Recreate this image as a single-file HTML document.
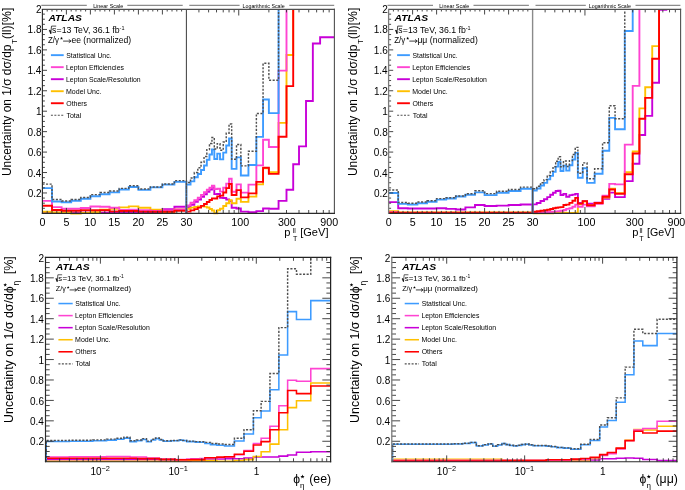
<!DOCTYPE html>
<html><head><meta charset="utf-8"><style>
html,body{margin:0;padding:0;background:#fff;overflow:hidden;}
svg{display:block;font-family:"Liberation Sans", sans-serif;will-change:transform;}
</style></head><body>
<svg width="685" height="490" viewBox="0 0 685 490">
<rect x="0" y="0" width="685" height="490" fill="#fff"/>
<clipPath id="clipTL"><rect x="41.90" y="9.00" width="292.50" height="206.00"/></clipPath>
<line x1="186.40" y1="9.00" x2="186.40" y2="213.40" stroke="#444" stroke-width="1.05" />
<g clip-path="url(#clipTL)">
<path d="M42.40,212.40 L52.00,212.40 L52.00,212.60 L61.60,212.60 L61.60,212.60 L71.20,212.60 L71.20,212.60 L80.80,212.60 L80.80,212.60 L90.40,212.60 L90.40,212.60 L100.00,212.60 L100.00,212.60 L109.60,212.60 L109.60,212.60 L119.20,212.60 L119.20,212.60 L128.80,212.60 L128.80,212.60 L138.40,212.60 L138.40,212.40 L150.40,212.40 L150.40,212.60 L162.40,212.60 L162.40,209.10 L174.40,209.10 L174.40,206.80 L186.40,206.80 L186.40,213.40 M186.40,213.40 L186.40,207.30 L190.54,207.30 L190.54,204.70 L194.33,204.70 L194.33,201.90 L197.81,201.90 L197.81,199.50 L201.03,199.50 L201.03,196.70 L204.03,196.70 L204.03,194.30 L206.83,194.30 L206.83,191.79 L209.47,191.79 L209.47,189.60 L211.95,189.60 L211.95,187.50 L214.30,187.50 L214.30,194.10 L217.25,194.10 L217.25,194.00 L220.01,194.00 L220.01,197.70 L223.23,197.70 L223.23,198.00 L226.23,198.00 L226.23,199.50 L229.04,199.50 L229.04,201.00 L231.67,201.00 L231.67,207.70 L236.51,207.70 L236.51,208.50 L240.86,208.50 L240.86,211.60 L248.44,211.60 L248.44,212.25 L256.37,212.25 L256.37,211.10 L263.07,211.10 L263.07,208.50 L268.87,208.50 L268.87,208.80 L278.57,208.80 L278.57,200.90 L286.50,200.90 L286.50,189.70 L293.20,189.70 L293.20,164.20 L299.01,164.20 L299.01,146.40 L306.02,146.40 L306.02,101.00 L312.85,101.00 L312.85,43.50 L320.11,43.50 L320.11,37.20 L334.26,37.20" fill="none" stroke="#c800d8" stroke-width="1.9" stroke-linejoin="miter"/>
<path d="M42.40,211.70 L52.00,211.70 L52.00,212.40 L61.60,212.40 L61.60,212.40 L71.20,212.40 L71.20,213.60 L80.80,213.60 L80.80,213.00 L90.40,213.00 L90.40,212.10 L100.00,212.10 L100.00,209.60 L109.60,209.60 L109.60,208.80 L119.20,208.80 L119.20,207.40 L128.80,207.40 L128.80,206.40 L138.40,206.40 L138.40,207.80 L150.40,207.80 L150.40,209.60 L162.40,209.60 L162.40,212.90 L174.40,212.90 L174.40,209.40 L186.40,209.40 L186.40,213.40 M186.40,213.40 L186.40,208.70 L190.54,208.70 L190.54,207.60 L194.33,207.60 L194.33,207.00 L197.81,207.00 L197.81,206.50 L201.03,206.50 L201.03,206.30 L204.03,206.30 L204.03,206.60 L206.83,206.60 L206.83,207.50 L209.47,207.50 L209.47,209.00 L211.95,209.00 L211.95,210.50 L214.30,210.50 L214.30,213.20 L217.25,213.20 L217.25,210.30 L220.01,210.30 L220.01,208.70 L223.23,208.70 L223.23,206.00 L226.23,206.00 L226.23,203.20 L229.04,203.20 L229.04,200.30 L231.67,200.30 L231.67,203.20 L236.51,203.20 L236.51,198.70 L240.86,198.70 L240.86,201.90 L248.44,201.90 L248.44,196.60 L256.37,196.60 L256.37,184.40 L263.07,184.40 L263.07,168.40 L268.87,168.40 L268.87,172.10 L278.57,172.10 L278.57,122.90 L286.50,122.90 L286.50,55.00 L293.20,55.00 L293.20,-21.66 L299.01,-21.66 L299.01,-21.66 L306.02,-21.66 L306.02,-21.66 L312.85,-21.66 L312.85,-21.66 L320.11,-21.66 L320.11,-21.66 L334.26,-21.66" fill="none" stroke="#ffc000" stroke-width="1.9" stroke-linejoin="miter"/>
<path d="M42.40,200.90 L52.00,200.90 L52.00,207.10 L61.60,207.10 L61.60,208.70 L71.20,208.70 L71.20,208.70 L80.80,208.70 L80.80,208.00 L90.40,208.00 L90.40,206.50 L100.00,206.50 L100.00,206.80 L109.60,206.80 L109.60,207.80 L119.20,207.80 L119.20,210.00 L128.80,210.00 L128.80,209.70 L138.40,209.70 L138.40,210.20 L150.40,210.20 L150.40,211.00 L162.40,211.00 L162.40,210.50 L174.40,210.50 L174.40,209.40 L186.40,209.40 L186.40,213.40 M186.40,213.40 L186.40,205.40 L190.54,205.40 L190.54,202.70 L194.33,202.70 L194.33,200.20 L197.81,200.20 L197.81,197.60 L201.03,197.60 L201.03,194.90 L204.03,194.90 L204.03,192.20 L206.83,192.20 L206.83,189.80 L209.47,189.80 L209.47,187.70 L211.95,187.70 L211.95,185.60 L214.30,185.60 L214.30,189.10 L217.25,189.10 L217.25,188.70 L220.01,188.70 L220.01,191.60 L223.23,191.60 L223.23,187.70 L226.23,187.70 L226.23,183.60 L229.04,183.60 L229.04,178.70 L231.67,178.70 L231.67,191.70 L236.51,191.70 L236.51,184.40 L240.86,184.40 L240.86,192.60 L248.44,192.60 L248.44,184.60 L256.37,184.60 L256.37,165.40 L263.07,165.40 L263.07,139.70 L268.87,139.70 L268.87,147.00 L278.57,147.00 L278.57,70.60 L286.50,70.60 L286.50,-21.66 L293.20,-21.66 L293.20,-21.66 L299.01,-21.66 L299.01,-21.66 L306.02,-21.66 L306.02,-21.66 L312.85,-21.66 L312.85,-21.66 L320.11,-21.66 L320.11,-21.66 L334.26,-21.66" fill="none" stroke="#ff44d2" stroke-width="1.9" stroke-linejoin="miter"/>
<path d="M42.40,205.80 L52.00,205.80 L52.00,210.00 L61.60,210.00 L61.60,210.70 L71.20,210.70 L71.20,210.70 L80.80,210.70 L80.80,210.20 L90.40,210.20 L90.40,210.20 L100.00,210.20 L100.00,210.30 L109.60,210.30 L109.60,211.40 L119.20,211.40 L119.20,211.00 L128.80,211.00 L128.80,211.00 L138.40,211.00 L138.40,211.60 L150.40,211.60 L150.40,211.70 L162.40,211.70 L162.40,211.70 L174.40,211.70 L174.40,210.70 L186.40,210.70 L186.40,213.40 M186.40,213.40 L186.40,211.60 L190.54,211.60 L190.54,210.40 L194.33,210.40 L194.33,209.10 L197.81,209.10 L197.81,207.60 L201.03,207.60 L201.03,205.90 L204.03,205.90 L204.03,204.00 L206.83,204.00 L206.83,202.00 L209.47,202.00 L209.47,200.00 L211.95,200.00 L211.95,198.40 L214.30,198.40 L214.30,198.50 L217.25,198.50 L217.25,196.40 L220.01,196.40 L220.01,195.60 L223.23,195.60 L223.23,192.50 L226.23,192.50 L226.23,188.10 L229.04,188.10 L229.04,184.00 L231.67,184.00 L231.67,195.00 L236.51,195.00 L236.51,190.10 L240.86,190.10 L240.86,197.40 L248.44,197.40 L248.44,193.40 L256.37,193.40 L256.37,181.90 L263.07,181.90 L263.07,167.80 L268.87,167.80 L268.87,173.90 L278.57,173.90 L278.57,136.80 L286.50,136.80 L286.50,86.10 L293.20,86.10 L293.20,-21.66 L299.01,-21.66 L299.01,-21.66 L306.02,-21.66 L306.02,-21.66 L312.85,-21.66 L312.85,-21.66 L320.11,-21.66 L320.11,-21.66 L334.26,-21.66" fill="none" stroke="#ff0000" stroke-width="1.9" stroke-linejoin="miter"/>
<path d="M42.40,188.10 L52.00,188.10 L52.00,201.50 L61.60,201.50 L61.60,202.30 L71.20,202.30 L71.20,200.70 L80.80,200.70 L80.80,198.70 L90.40,198.70 L90.40,196.30 L100.00,196.30 L100.00,194.30 L109.60,194.30 L109.60,192.40 L119.20,192.40 L119.20,189.50 L128.80,189.50 L128.80,187.00 L138.40,187.00 L138.40,189.90 L150.40,189.90 L150.40,187.40 L162.40,187.40 L162.40,184.60 L174.40,184.60 L174.40,181.90 L186.40,181.90 L186.40,213.40 M186.40,213.40 L186.40,184.60 L190.54,184.60 L190.54,181.40 L194.33,181.40 L194.33,177.30 L197.81,177.30 L197.81,174.00 L201.03,174.00 L201.03,170.00 L204.03,170.00 L204.03,165.50 L206.83,165.50 L206.83,159.70 L209.47,159.70 L209.47,154.50 L211.95,154.50 L211.95,149.50 L214.30,149.50 L214.30,159.00 L217.25,159.00 L217.25,153.60 L220.01,153.60 L220.01,159.40 L223.23,159.40 L223.23,152.60 L226.23,152.60 L226.23,145.50 L229.04,145.50 L229.04,138.50 L231.67,138.50 L231.67,168.90 L236.51,168.90 L236.51,157.40 L240.86,157.40 L240.86,175.50 L248.44,175.50 L248.44,165.00 L256.37,165.00 L256.37,136.90 L263.07,136.90 L263.07,99.50 L268.87,99.50 L268.87,113.10 L278.57,113.10 L278.57,-21.66 L286.50,-21.66 L286.50,-21.66 L293.20,-21.66 L293.20,-21.66 L299.01,-21.66 L299.01,-21.66 L306.02,-21.66 L306.02,-21.66 L312.85,-21.66 L312.85,-21.66 L320.11,-21.66 L320.11,-21.66 L334.26,-21.66" fill="none" stroke="#3d9bff" stroke-width="1.9" stroke-linejoin="miter"/>
<path d="M42.40,184.10 L52.00,184.10 L52.00,199.46 L61.60,199.46 L61.60,200.98 L71.20,200.98 L71.20,199.56 L80.80,199.56 L80.80,197.40 L90.40,197.40 L90.40,194.63 L100.00,194.63 L100.00,192.59 L109.60,192.59 L109.60,191.08 L119.20,191.08 L119.20,188.39 L128.80,188.39 L128.80,185.72 L138.40,185.72 L138.40,188.94 L150.40,188.94 L150.40,186.95 L162.40,186.95 L162.40,184.08 L174.40,184.08 L174.40,180.61 L186.40,180.61 L186.40,213.40 M186.40,213.40 L186.40,182.48 L190.54,182.48 L190.54,177.95 L194.33,177.95 L194.33,172.55 L197.81,172.55 L197.81,167.83 L201.03,167.83 L201.03,162.30 L204.03,162.30 L204.03,156.45 L206.83,156.45 L206.83,149.60 L209.47,149.60 L209.47,143.43 L211.95,143.43 L211.95,137.51 L214.30,137.51 L214.30,149.02 L217.25,149.02 L217.25,143.68 L220.01,143.68 L220.01,150.33 L223.23,150.33 L223.23,142.08 L226.23,142.08 L226.23,133.17 L229.04,133.17 L229.04,123.93 L231.67,123.93 L231.67,159.31 L236.51,159.31 L236.51,144.40 L240.86,144.40 L240.86,165.86 L248.44,165.86 L248.44,151.30 L256.37,151.30 L256.37,113.43 L263.07,113.43 L263.07,63.29 L268.87,63.29 L268.87,80.15 L278.57,80.15 L278.57,-21.66 L286.50,-21.66 L286.50,-21.66 L293.20,-21.66 L293.20,-21.66 L299.01,-21.66 L299.01,-21.66 L306.02,-21.66 L306.02,-21.66 L312.85,-21.66 L312.85,-21.66 L320.11,-21.66 L320.11,-21.66 L334.26,-21.66" fill="none" stroke="#505050" stroke-width="1.45" stroke-linejoin="miter" stroke-dasharray="2.1,1.5"/>
</g>
<line x1="42.40" y1="208.29" x2="44.90" y2="208.29" stroke="#333" stroke-width="0.9" />
<line x1="42.40" y1="203.18" x2="44.90" y2="203.18" stroke="#333" stroke-width="0.9" />
<line x1="42.40" y1="198.07" x2="44.90" y2="198.07" stroke="#333" stroke-width="0.9" />
<line x1="42.40" y1="192.96" x2="47.00" y2="192.96" stroke="#333" stroke-width="0.9" />
<line x1="42.40" y1="187.85" x2="44.90" y2="187.85" stroke="#333" stroke-width="0.9" />
<line x1="42.40" y1="182.74" x2="44.90" y2="182.74" stroke="#333" stroke-width="0.9" />
<line x1="42.40" y1="177.63" x2="44.90" y2="177.63" stroke="#333" stroke-width="0.9" />
<line x1="42.40" y1="172.52" x2="47.00" y2="172.52" stroke="#333" stroke-width="0.9" />
<line x1="42.40" y1="167.41" x2="44.90" y2="167.41" stroke="#333" stroke-width="0.9" />
<line x1="42.40" y1="162.30" x2="44.90" y2="162.30" stroke="#333" stroke-width="0.9" />
<line x1="42.40" y1="157.19" x2="44.90" y2="157.19" stroke="#333" stroke-width="0.9" />
<line x1="42.40" y1="152.08" x2="47.00" y2="152.08" stroke="#333" stroke-width="0.9" />
<line x1="42.40" y1="146.97" x2="44.90" y2="146.97" stroke="#333" stroke-width="0.9" />
<line x1="42.40" y1="141.86" x2="44.90" y2="141.86" stroke="#333" stroke-width="0.9" />
<line x1="42.40" y1="136.75" x2="44.90" y2="136.75" stroke="#333" stroke-width="0.9" />
<line x1="42.40" y1="131.64" x2="47.00" y2="131.64" stroke="#333" stroke-width="0.9" />
<line x1="42.40" y1="126.53" x2="44.90" y2="126.53" stroke="#333" stroke-width="0.9" />
<line x1="42.40" y1="121.42" x2="44.90" y2="121.42" stroke="#333" stroke-width="0.9" />
<line x1="42.40" y1="116.31" x2="44.90" y2="116.31" stroke="#333" stroke-width="0.9" />
<line x1="42.40" y1="111.20" x2="47.00" y2="111.20" stroke="#333" stroke-width="0.9" />
<line x1="42.40" y1="106.09" x2="44.90" y2="106.09" stroke="#333" stroke-width="0.9" />
<line x1="42.40" y1="100.98" x2="44.90" y2="100.98" stroke="#333" stroke-width="0.9" />
<line x1="42.40" y1="95.87" x2="44.90" y2="95.87" stroke="#333" stroke-width="0.9" />
<line x1="42.40" y1="90.76" x2="47.00" y2="90.76" stroke="#333" stroke-width="0.9" />
<line x1="42.40" y1="85.65" x2="44.90" y2="85.65" stroke="#333" stroke-width="0.9" />
<line x1="42.40" y1="80.54" x2="44.90" y2="80.54" stroke="#333" stroke-width="0.9" />
<line x1="42.40" y1="75.43" x2="44.90" y2="75.43" stroke="#333" stroke-width="0.9" />
<line x1="42.40" y1="70.32" x2="47.00" y2="70.32" stroke="#333" stroke-width="0.9" />
<line x1="42.40" y1="65.21" x2="44.90" y2="65.21" stroke="#333" stroke-width="0.9" />
<line x1="42.40" y1="60.10" x2="44.90" y2="60.10" stroke="#333" stroke-width="0.9" />
<line x1="42.40" y1="54.99" x2="44.90" y2="54.99" stroke="#333" stroke-width="0.9" />
<line x1="42.40" y1="49.88" x2="47.00" y2="49.88" stroke="#333" stroke-width="0.9" />
<line x1="42.40" y1="44.77" x2="44.90" y2="44.77" stroke="#333" stroke-width="0.9" />
<line x1="42.40" y1="39.66" x2="44.90" y2="39.66" stroke="#333" stroke-width="0.9" />
<line x1="42.40" y1="34.55" x2="44.90" y2="34.55" stroke="#333" stroke-width="0.9" />
<line x1="42.40" y1="29.44" x2="47.00" y2="29.44" stroke="#333" stroke-width="0.9" />
<line x1="42.40" y1="24.33" x2="44.90" y2="24.33" stroke="#333" stroke-width="0.9" />
<line x1="42.40" y1="19.22" x2="44.90" y2="19.22" stroke="#333" stroke-width="0.9" />
<line x1="42.40" y1="14.11" x2="44.90" y2="14.11" stroke="#333" stroke-width="0.9" />
<text x="27.70" y="196.96" font-size="10" fill="#000" >0.2</text>
<text x="27.50" y="176.52" font-size="10" fill="#000" >0.4</text>
<text x="27.65" y="156.08" font-size="10" fill="#000" >0.6</text>
<text x="27.60" y="135.64" font-size="10" fill="#000" >0.8</text>
<text x="36.05" y="115.20" font-size="10" fill="#000" >1</text>
<text x="27.70" y="94.76" font-size="10" fill="#000" >1.2</text>
<text x="27.50" y="74.32" font-size="10" fill="#000" >1.4</text>
<text x="27.65" y="53.88" font-size="10" fill="#000" >1.6</text>
<text x="27.60" y="33.44" font-size="10" fill="#000" >1.8</text>
<text x="36.05" y="13.00" font-size="10" fill="#000" >2</text>
<line x1="47.20" y1="9.00" x2="47.20" y2="11.50" stroke="#333" stroke-width="0.9" />
<line x1="47.20" y1="213.40" x2="47.20" y2="210.90" stroke="#333" stroke-width="0.9" />
<line x1="52.00" y1="9.00" x2="52.00" y2="11.50" stroke="#333" stroke-width="0.9" />
<line x1="52.00" y1="213.40" x2="52.00" y2="210.90" stroke="#333" stroke-width="0.9" />
<line x1="56.80" y1="9.00" x2="56.80" y2="11.50" stroke="#333" stroke-width="0.9" />
<line x1="56.80" y1="213.40" x2="56.80" y2="210.90" stroke="#333" stroke-width="0.9" />
<line x1="61.60" y1="9.00" x2="61.60" y2="11.50" stroke="#333" stroke-width="0.9" />
<line x1="61.60" y1="213.40" x2="61.60" y2="210.90" stroke="#333" stroke-width="0.9" />
<line x1="66.40" y1="9.00" x2="66.40" y2="14.50" stroke="#333" stroke-width="0.9" />
<line x1="66.40" y1="213.40" x2="66.40" y2="207.90" stroke="#333" stroke-width="0.9" />
<line x1="71.20" y1="9.00" x2="71.20" y2="11.50" stroke="#333" stroke-width="0.9" />
<line x1="71.20" y1="213.40" x2="71.20" y2="210.90" stroke="#333" stroke-width="0.9" />
<line x1="76.00" y1="9.00" x2="76.00" y2="11.50" stroke="#333" stroke-width="0.9" />
<line x1="76.00" y1="213.40" x2="76.00" y2="210.90" stroke="#333" stroke-width="0.9" />
<line x1="80.80" y1="9.00" x2="80.80" y2="11.50" stroke="#333" stroke-width="0.9" />
<line x1="80.80" y1="213.40" x2="80.80" y2="210.90" stroke="#333" stroke-width="0.9" />
<line x1="85.60" y1="9.00" x2="85.60" y2="11.50" stroke="#333" stroke-width="0.9" />
<line x1="85.60" y1="213.40" x2="85.60" y2="210.90" stroke="#333" stroke-width="0.9" />
<line x1="90.40" y1="9.00" x2="90.40" y2="14.50" stroke="#333" stroke-width="0.9" />
<line x1="90.40" y1="213.40" x2="90.40" y2="207.90" stroke="#333" stroke-width="0.9" />
<line x1="95.20" y1="9.00" x2="95.20" y2="11.50" stroke="#333" stroke-width="0.9" />
<line x1="95.20" y1="213.40" x2="95.20" y2="210.90" stroke="#333" stroke-width="0.9" />
<line x1="100.00" y1="9.00" x2="100.00" y2="11.50" stroke="#333" stroke-width="0.9" />
<line x1="100.00" y1="213.40" x2="100.00" y2="210.90" stroke="#333" stroke-width="0.9" />
<line x1="104.80" y1="9.00" x2="104.80" y2="11.50" stroke="#333" stroke-width="0.9" />
<line x1="104.80" y1="213.40" x2="104.80" y2="210.90" stroke="#333" stroke-width="0.9" />
<line x1="109.60" y1="9.00" x2="109.60" y2="11.50" stroke="#333" stroke-width="0.9" />
<line x1="109.60" y1="213.40" x2="109.60" y2="210.90" stroke="#333" stroke-width="0.9" />
<line x1="114.40" y1="9.00" x2="114.40" y2="14.50" stroke="#333" stroke-width="0.9" />
<line x1="114.40" y1="213.40" x2="114.40" y2="207.90" stroke="#333" stroke-width="0.9" />
<line x1="119.20" y1="9.00" x2="119.20" y2="11.50" stroke="#333" stroke-width="0.9" />
<line x1="119.20" y1="213.40" x2="119.20" y2="210.90" stroke="#333" stroke-width="0.9" />
<line x1="124.00" y1="9.00" x2="124.00" y2="11.50" stroke="#333" stroke-width="0.9" />
<line x1="124.00" y1="213.40" x2="124.00" y2="210.90" stroke="#333" stroke-width="0.9" />
<line x1="128.80" y1="9.00" x2="128.80" y2="11.50" stroke="#333" stroke-width="0.9" />
<line x1="128.80" y1="213.40" x2="128.80" y2="210.90" stroke="#333" stroke-width="0.9" />
<line x1="133.60" y1="9.00" x2="133.60" y2="11.50" stroke="#333" stroke-width="0.9" />
<line x1="133.60" y1="213.40" x2="133.60" y2="210.90" stroke="#333" stroke-width="0.9" />
<line x1="138.40" y1="9.00" x2="138.40" y2="14.50" stroke="#333" stroke-width="0.9" />
<line x1="138.40" y1="213.40" x2="138.40" y2="207.90" stroke="#333" stroke-width="0.9" />
<line x1="143.20" y1="9.00" x2="143.20" y2="11.50" stroke="#333" stroke-width="0.9" />
<line x1="143.20" y1="213.40" x2="143.20" y2="210.90" stroke="#333" stroke-width="0.9" />
<line x1="148.00" y1="9.00" x2="148.00" y2="11.50" stroke="#333" stroke-width="0.9" />
<line x1="148.00" y1="213.40" x2="148.00" y2="210.90" stroke="#333" stroke-width="0.9" />
<line x1="152.80" y1="9.00" x2="152.80" y2="11.50" stroke="#333" stroke-width="0.9" />
<line x1="152.80" y1="213.40" x2="152.80" y2="210.90" stroke="#333" stroke-width="0.9" />
<line x1="157.60" y1="9.00" x2="157.60" y2="11.50" stroke="#333" stroke-width="0.9" />
<line x1="157.60" y1="213.40" x2="157.60" y2="210.90" stroke="#333" stroke-width="0.9" />
<line x1="162.40" y1="9.00" x2="162.40" y2="14.50" stroke="#333" stroke-width="0.9" />
<line x1="162.40" y1="213.40" x2="162.40" y2="207.90" stroke="#333" stroke-width="0.9" />
<line x1="167.20" y1="9.00" x2="167.20" y2="11.50" stroke="#333" stroke-width="0.9" />
<line x1="167.20" y1="213.40" x2="167.20" y2="210.90" stroke="#333" stroke-width="0.9" />
<line x1="172.00" y1="9.00" x2="172.00" y2="11.50" stroke="#333" stroke-width="0.9" />
<line x1="172.00" y1="213.40" x2="172.00" y2="210.90" stroke="#333" stroke-width="0.9" />
<line x1="176.80" y1="9.00" x2="176.80" y2="11.50" stroke="#333" stroke-width="0.9" />
<line x1="176.80" y1="213.40" x2="176.80" y2="210.90" stroke="#333" stroke-width="0.9" />
<line x1="181.60" y1="9.00" x2="181.60" y2="11.50" stroke="#333" stroke-width="0.9" />
<line x1="181.60" y1="213.40" x2="181.60" y2="210.90" stroke="#333" stroke-width="0.9" />
<line x1="198.91" y1="9.00" x2="198.91" y2="12.40" stroke="#333" stroke-width="0.9" />
<line x1="198.91" y1="213.40" x2="198.91" y2="210.00" stroke="#333" stroke-width="0.9" />
<line x1="208.61" y1="9.00" x2="208.61" y2="12.40" stroke="#333" stroke-width="0.9" />
<line x1="208.61" y1="213.40" x2="208.61" y2="210.00" stroke="#333" stroke-width="0.9" />
<line x1="216.53" y1="9.00" x2="216.53" y2="12.40" stroke="#333" stroke-width="0.9" />
<line x1="216.53" y1="213.40" x2="216.53" y2="210.00" stroke="#333" stroke-width="0.9" />
<line x1="223.23" y1="9.00" x2="223.23" y2="12.40" stroke="#333" stroke-width="0.9" />
<line x1="223.23" y1="213.40" x2="223.23" y2="210.00" stroke="#333" stroke-width="0.9" />
<line x1="229.04" y1="9.00" x2="229.04" y2="12.40" stroke="#333" stroke-width="0.9" />
<line x1="229.04" y1="213.40" x2="229.04" y2="210.00" stroke="#333" stroke-width="0.9" />
<line x1="234.16" y1="9.00" x2="234.16" y2="12.40" stroke="#333" stroke-width="0.9" />
<line x1="234.16" y1="213.40" x2="234.16" y2="210.00" stroke="#333" stroke-width="0.9" />
<line x1="238.74" y1="9.00" x2="238.74" y2="15.50" stroke="#333" stroke-width="0.9" />
<line x1="238.74" y1="213.40" x2="238.74" y2="206.90" stroke="#333" stroke-width="0.9" />
<line x1="268.87" y1="9.00" x2="268.87" y2="12.40" stroke="#333" stroke-width="0.9" />
<line x1="268.87" y1="213.40" x2="268.87" y2="210.00" stroke="#333" stroke-width="0.9" />
<line x1="286.50" y1="9.00" x2="286.50" y2="12.40" stroke="#333" stroke-width="0.9" />
<line x1="286.50" y1="213.40" x2="286.50" y2="210.00" stroke="#333" stroke-width="0.9" />
<line x1="299.01" y1="9.00" x2="299.01" y2="12.40" stroke="#333" stroke-width="0.9" />
<line x1="299.01" y1="213.40" x2="299.01" y2="210.00" stroke="#333" stroke-width="0.9" />
<line x1="308.71" y1="9.00" x2="308.71" y2="12.40" stroke="#333" stroke-width="0.9" />
<line x1="308.71" y1="213.40" x2="308.71" y2="210.00" stroke="#333" stroke-width="0.9" />
<line x1="316.63" y1="9.00" x2="316.63" y2="12.40" stroke="#333" stroke-width="0.9" />
<line x1="316.63" y1="213.40" x2="316.63" y2="210.00" stroke="#333" stroke-width="0.9" />
<line x1="323.33" y1="9.00" x2="323.33" y2="12.40" stroke="#333" stroke-width="0.9" />
<line x1="323.33" y1="213.40" x2="323.33" y2="210.00" stroke="#333" stroke-width="0.9" />
<line x1="329.14" y1="9.00" x2="329.14" y2="12.40" stroke="#333" stroke-width="0.9" />
<line x1="329.14" y1="213.40" x2="329.14" y2="210.00" stroke="#333" stroke-width="0.9" />
<text x="39.42" y="226.00" font-size="10.7" fill="#000" >0</text>
<text x="63.43" y="226.00" font-size="10.7" fill="#000" >5</text>
<text x="84.25" y="226.00" font-size="10.7" fill="#000" >10</text>
<text x="108.28" y="226.00" font-size="10.7" fill="#000" >15</text>
<text x="132.38" y="226.00" font-size="10.7" fill="#000" >20</text>
<text x="156.40" y="226.00" font-size="10.7" fill="#000" >25</text>
<text x="180.45" y="226.00" font-size="10.7" fill="#000" >30</text>
<text x="231.32" y="226.00" font-size="10.7" fill="#000" >100</text>
<text x="277.88" y="226.00" font-size="10.7" fill="#000" >300</text>
<text x="320.28" y="226.00" font-size="10.7" fill="#000" >900</text>
<line x1="42.40" y1="9.40" x2="334.40" y2="9.40" stroke="#505050" stroke-width="1.1" stroke-linecap="square"/>
<line x1="334.40" y1="9.40" x2="334.40" y2="213.40" stroke="#505050" stroke-width="1.1" stroke-linecap="square"/>
<line x1="42.40" y1="213.40" x2="334.40" y2="213.40" stroke="#2a2a2a" stroke-width="1.15" stroke-linecap="square"/>
<line x1="42.40" y1="9.00" x2="42.40" y2="213.90" stroke="#2a2a2a" stroke-width="1.15" />
<text x="48.40" y="20.60" font-size="9.5" fill="#000" font-weight="bold" font-style="italic" textLength="33.61" lengthAdjust="spacingAndGlyphs" >ATLAS</text>
<path d="M48.90,30.60 L49.70,30.20 L50.80,33.60 L51.50,26.10 L56.20,26.10" fill="none" stroke="#111" stroke-width="0.75"/>
<path d="M49.80,30.30 L50.85,33.50" stroke="#111" stroke-width="1.30"/>
<text x="52.05" y="33.30" font-size="8.6" fill="#000" >s</text>
<text x="56.60" y="33.30" font-size="8.6" fill="#000" textLength="62.98" lengthAdjust="spacingAndGlyphs" >=13 TeV, 36.1 fb</text>
<text x="119.55" y="29.60" font-size="5.5" fill="#000" >-1</text>
<text x="47.95" y="42.70" font-size="8.6" fill="#000" textLength="11.09" lengthAdjust="spacingAndGlyphs" >Z/γ</text>
<polygon points="61.50,36.85 61.88,37.87 62.97,37.92 62.12,38.60 62.41,39.65 61.50,39.05 60.59,39.65 60.88,38.60 60.03,37.92 61.12,37.87" fill="#000"/>
<path d="M63.10,41.10 L70.60,41.10" stroke="#111" stroke-width="0.8"/>
<path d="M68.80,39.50 L71.10,41.10 L68.80,42.70" fill="none" stroke="#111" stroke-width="0.8"/>
<text x="71.45" y="42.70" font-size="8.6" fill="#000" textLength="59.65" lengthAdjust="spacingAndGlyphs" >ee (normalized)</text>
<line x1="50.90" y1="55.15" x2="63.70" y2="55.15" stroke="#3d9bff" stroke-width="1.9" />
<text x="66.25" y="57.60" font-size="7.2" fill="#000" textLength="45.22" lengthAdjust="spacingAndGlyphs" >Statistical Unc.</text>
<line x1="50.90" y1="67.17" x2="63.70" y2="67.17" stroke="#ff44d2" stroke-width="1.9" />
<text x="66.00" y="69.62" font-size="7.2" fill="#000" textLength="57.96" lengthAdjust="spacingAndGlyphs" >Lepton Efficiencies</text>
<line x1="50.90" y1="79.19" x2="63.70" y2="79.19" stroke="#c800d8" stroke-width="1.9" />
<text x="66.00" y="81.64" font-size="7.2" fill="#000" textLength="74.66" lengthAdjust="spacingAndGlyphs" >Lepton Scale/Resolution</text>
<line x1="50.90" y1="91.21" x2="63.70" y2="91.21" stroke="#ffc000" stroke-width="1.9" />
<text x="66.00" y="93.66" font-size="7.2" fill="#000" textLength="35.47" lengthAdjust="spacingAndGlyphs" >Model Unc.</text>
<line x1="50.90" y1="103.23" x2="63.70" y2="103.23" stroke="#ff0000" stroke-width="1.9" />
<text x="66.25" y="105.68" font-size="7.2" fill="#000" textLength="20.81" lengthAdjust="spacingAndGlyphs" >Others</text>
<line x1="50.90" y1="115.25" x2="63.70" y2="115.25" stroke="#505050" stroke-width="1.2" stroke-dasharray="2.0,1.45"/>
<text x="66.45" y="117.70" font-size="7.2" fill="#000" textLength="14.86" lengthAdjust="spacingAndGlyphs" >Total</text>
<line x1="41.30" y1="5.40" x2="86.80" y2="5.40" stroke="#8c8c8c" stroke-width="1.2" />
<text x="93.15" y="7.90" font-size="5.6" fill="#000" textLength="30.03" lengthAdjust="spacingAndGlyphs" >Linear Scale</text>
<line x1="127.30" y1="5.40" x2="182.70" y2="5.40" stroke="#8c8c8c" stroke-width="1.2" />
<line x1="189.30" y1="5.40" x2="239.60" y2="5.40" stroke="#8c8c8c" stroke-width="1.2" />
<text x="242.55" y="7.90" font-size="5.6" fill="#000" textLength="42.11" lengthAdjust="spacingAndGlyphs" >Logarithmic Scale</text>
<line x1="289.30" y1="5.40" x2="334.20" y2="5.40" stroke="#8c8c8c" stroke-width="1.2" />
<text x="284.20" y="236.20" font-size="11.1" fill="#000" >p</text>
<text x="292.65" y="232.90" font-size="6.8" fill="#000" >ll</text>
<text x="292.95" y="240.90" font-size="7.1" fill="#000" >T</text>
<text x="300.20" y="236.20" font-size="11.1" fill="#000" textLength="28.28" lengthAdjust="spacingAndGlyphs" >[GeV]</text>
<text transform="translate(10.90,176.05) rotate(-90)" x="0" y="0" font-size="12.4" fill="#000" textLength="131.52" lengthAdjust="spacingAndGlyphs">Uncertainty on 1/σ dσ/dp</text>
<text transform="translate(17.10,44.10) rotate(-90)" x="0" y="0" font-size="8.0" fill="#000">T</text>
<text transform="translate(10.90,38.95) rotate(-90)" x="0" y="0" font-size="12.4" fill="#000" textLength="31.24" lengthAdjust="spacingAndGlyphs">(ll)[%]</text>
<clipPath id="clipTR"><rect x="388.10" y="9.00" width="292.50" height="206.00"/></clipPath>
<line x1="532.60" y1="9.00" x2="532.60" y2="213.40" stroke="#8a8a8a" stroke-width="1.4" />
<g clip-path="url(#clipTR)">
<path d="M388.60,202.10 L398.20,202.10 L398.20,208.30 L407.80,208.30 L407.80,208.50 L417.40,208.50 L417.40,208.50 L427.00,208.50 L427.00,208.50 L436.60,208.50 L436.60,208.30 L446.20,208.30 L446.20,208.90 L455.80,208.90 L455.80,209.50 L465.40,209.50 L465.40,207.40 L475.00,207.40 L475.00,205.00 L484.60,205.00 L484.60,206.00 L496.60,206.00 L496.60,205.60 L508.60,205.60 L508.60,205.00 L520.60,205.00 L520.60,204.50 L532.60,204.50 L532.60,213.40 M532.60,213.40 L532.60,204.40 L536.74,204.40 L536.74,203.00 L540.53,203.00 L540.53,201.00 L544.01,201.00 L544.01,199.30 L547.23,199.30 L547.23,197.10 L550.23,197.10 L550.23,194.80 L553.03,194.80 L553.03,192.70 L555.67,192.70 L555.67,191.00 L558.15,191.00 L558.15,190.80 L560.50,190.80 L560.50,195.00 L563.45,195.00 L563.45,193.90 L566.21,193.90 L566.21,196.80 L569.43,196.80 L569.43,195.10 L572.43,195.10 L572.43,194.60 L575.24,194.60 L575.24,193.90 L577.87,193.90 L577.87,202.90 L582.71,202.90 L582.71,201.10 L587.06,201.10 L587.06,203.60 L594.64,203.60 L594.64,202.80 L602.57,202.80 L602.57,198.70 L609.27,198.70 L609.27,192.60 L615.07,192.60 L615.07,197.10 L624.77,197.10 L624.77,181.10 L632.70,181.10 L632.70,163.70 L639.40,163.70 L639.40,135.00 L645.21,135.00 L645.21,115.90 L652.22,115.90 L652.22,82.70 L659.05,82.70 L659.05,9.80 L666.31,9.80 L666.31,-21.66 L680.46,-21.66" fill="none" stroke="#c800d8" stroke-width="1.9" stroke-linejoin="miter"/>
<path d="M388.60,211.10 L398.20,211.10 L398.20,212.30 L407.80,212.30 L407.80,212.30 L417.40,212.30 L417.40,212.30 L427.00,212.30 L427.00,212.30 L436.60,212.30 L436.60,212.30 L446.20,212.30 L446.20,212.30 L455.80,212.30 L455.80,212.30 L465.40,212.30 L465.40,212.30 L475.00,212.30 L475.00,212.30 L484.60,212.30 L484.60,212.30 L496.60,212.30 L496.60,212.30 L508.60,212.30 L508.60,212.30 L520.60,212.30 L520.60,212.30 L532.60,212.30 L532.60,213.40 M532.60,213.40 L532.60,213.30 L536.74,213.30 L536.74,213.30 L540.53,213.30 L540.53,213.30 L544.01,213.30 L544.01,213.30 L547.23,213.30 L547.23,213.30 L550.23,213.30 L550.23,213.20 L553.03,213.20 L553.03,213.10 L555.67,213.10 L555.67,213.00 L558.15,213.00 L558.15,212.90 L560.50,212.90 L560.50,212.80 L563.45,212.80 L563.45,212.80 L566.21,212.80 L566.21,212.90 L569.43,212.90 L569.43,213.00 L572.43,213.00 L572.43,213.00 L575.24,213.00 L575.24,212.80 L577.87,212.80 L577.87,204.20 L582.71,204.20 L582.71,201.60 L587.06,201.60 L587.06,205.60 L594.64,205.60 L594.64,203.40 L602.57,203.40 L602.57,197.50 L609.27,197.50 L609.27,188.70 L615.07,188.70 L615.07,193.10 L624.77,193.10 L624.77,172.10 L632.70,172.10 L632.70,151.50 L639.40,151.50 L639.40,108.40 L645.21,108.40 L645.21,87.30 L652.22,87.30 L652.22,46.10 L659.05,46.10 L659.05,-21.66 L666.31,-21.66 L666.31,-21.66 L680.46,-21.66" fill="none" stroke="#ffc000" stroke-width="1.9" stroke-linejoin="miter"/>
<path d="M388.60,212.30 L398.20,212.30 L398.20,212.71 L407.80,212.71 L407.80,212.71 L417.40,212.71 L417.40,212.71 L427.00,212.71 L427.00,212.71 L436.60,212.71 L436.60,212.71 L446.20,212.71 L446.20,212.71 L455.80,212.71 L455.80,212.71 L465.40,212.71 L465.40,212.71 L475.00,212.71 L475.00,212.71 L484.60,212.71 L484.60,212.71 L496.60,212.71 L496.60,212.71 L508.60,212.71 L508.60,212.71 L520.60,212.71 L520.60,212.71 L532.60,212.71 L532.60,213.40 M532.60,213.40 L532.60,212.80 L536.74,212.80 L536.74,212.60 L540.53,212.60 L540.53,212.40 L544.01,212.40 L544.01,212.20 L547.23,212.20 L547.23,212.00 L550.23,212.00 L550.23,211.80 L553.03,211.80 L553.03,211.60 L555.67,211.60 L555.67,211.40 L558.15,211.40 L558.15,211.20 L560.50,211.20 L560.50,210.70 L563.45,210.70 L563.45,210.00 L566.21,210.00 L566.21,208.90 L569.43,208.90 L569.43,208.20 L572.43,208.20 L572.43,206.80 L575.24,206.80 L575.24,204.60 L577.87,204.60 L577.87,206.80 L582.71,206.80 L582.71,204.60 L587.06,204.60 L587.06,206.30 L594.64,206.30 L594.64,203.80 L602.57,203.80 L602.57,195.60 L609.27,195.60 L609.27,183.91 L615.07,183.91 L615.07,184.40 L624.77,184.40 L624.77,144.60 L632.70,144.60 L632.70,85.90 L639.40,85.90 L639.40,-21.66 L645.21,-21.66 L645.21,-21.66 L652.22,-21.66 L652.22,-21.66 L659.05,-21.66 L659.05,-21.66 L666.31,-21.66 L666.31,-21.66 L680.46,-21.66" fill="none" stroke="#ff44d2" stroke-width="1.9" stroke-linejoin="miter"/>
<path d="M388.60,212.60 L398.20,212.60 L398.20,212.90 L407.80,212.90 L407.80,212.90 L417.40,212.90 L417.40,212.90 L427.00,212.90 L427.00,212.90 L436.60,212.90 L436.60,212.90 L446.20,212.90 L446.20,212.90 L455.80,212.90 L455.80,212.90 L465.40,212.90 L465.40,212.90 L475.00,212.90 L475.00,212.90 L484.60,212.90 L484.60,212.90 L496.60,212.90 L496.60,212.90 L508.60,212.90 L508.60,212.90 L520.60,212.90 L520.60,212.90 L532.60,212.90 L532.60,213.40 M532.60,213.40 L532.60,211.70 L536.74,211.70 L536.74,211.30 L540.53,211.30 L540.53,210.70 L544.01,210.70 L544.01,210.30 L547.23,210.30 L547.23,209.70 L550.23,209.70 L550.23,209.00 L553.03,209.00 L553.03,208.30 L555.67,208.30 L555.67,207.80 L558.15,207.80 L558.15,207.40 L560.50,207.40 L560.50,207.10 L563.45,207.10 L563.45,205.00 L566.21,205.00 L566.21,204.60 L569.43,204.60 L569.43,202.90 L572.43,202.90 L572.43,200.70 L575.24,200.70 L575.24,197.90 L577.87,197.90 L577.87,203.60 L582.71,203.60 L582.71,201.10 L587.06,201.10 L587.06,205.30 L594.64,205.30 L594.64,203.00 L602.57,203.00 L602.57,196.80 L609.27,196.80 L609.27,189.50 L615.07,189.50 L615.07,193.80 L624.77,193.80 L624.77,174.20 L632.70,174.20 L632.70,153.50 L639.40,153.50 L639.40,118.70 L645.21,118.70 L645.21,97.90 L652.22,97.90 L652.22,58.70 L659.05,58.70 L659.05,-21.66 L666.31,-21.66 L666.31,-21.66 L680.46,-21.66" fill="none" stroke="#ff0000" stroke-width="1.9" stroke-linejoin="miter"/>
<path d="M388.60,193.00 L398.20,193.00 L398.20,203.90 L407.80,203.90 L407.80,204.50 L417.40,204.50 L417.40,203.20 L427.00,203.20 L427.00,201.80 L436.60,201.80 L436.60,199.60 L446.20,199.60 L446.20,198.50 L455.80,198.50 L455.80,196.50 L465.40,196.50 L465.40,194.80 L475.00,194.80 L475.00,192.40 L484.60,192.40 L484.60,195.10 L496.60,195.10 L496.60,192.80 L508.60,192.80 L508.60,191.00 L520.60,191.00 L520.60,188.70 L532.60,188.70 L532.60,213.40 M532.60,213.40 L532.60,190.50 L536.74,190.50 L536.74,188.50 L540.53,188.50 L540.53,185.50 L544.01,185.50 L544.01,182.90 L547.23,182.90 L547.23,179.40 L550.23,179.40 L550.23,175.90 L553.03,175.90 L553.03,171.90 L555.67,171.90 L555.67,166.60 L558.15,166.60 L558.15,161.90 L560.50,161.90 L560.50,171.00 L563.45,171.00 L563.45,165.60 L566.21,165.60 L566.21,170.60 L569.43,170.60 L569.43,165.30 L572.43,165.30 L572.43,159.50 L575.24,159.50 L575.24,152.90 L577.87,152.90 L577.87,177.70 L582.71,177.70 L582.71,168.30 L587.06,168.30 L587.06,182.90 L594.64,182.90 L594.64,173.70 L602.57,173.70 L602.57,150.70 L609.27,150.70 L609.27,117.90 L615.07,117.90 L615.07,129.30 L624.77,129.30 L624.77,31.00 L632.70,31.00 L632.70,-21.66 L639.40,-21.66 L639.40,-21.66 L645.21,-21.66 L645.21,-21.66 L652.22,-21.66 L652.22,-21.66 L659.05,-21.66 L659.05,-21.66 L666.31,-21.66 L666.31,-21.66 L680.46,-21.66" fill="none" stroke="#3d9bff" stroke-width="1.9" stroke-linejoin="miter"/>
<path d="M388.60,189.92 L398.20,189.92 L398.20,202.53 L407.80,202.53 L407.80,203.15 L417.40,203.15 L417.40,202.00 L427.00,202.00 L427.00,200.74 L436.60,200.74 L436.60,198.62 L446.20,198.62 L446.20,197.77 L455.80,197.77 L455.80,196.00 L465.40,196.00 L465.40,193.81 L475.00,193.81 L475.00,190.73 L484.60,190.73 L484.60,193.60 L496.60,193.60 L496.60,191.32 L508.60,191.32 L508.60,189.43 L520.60,189.43 L520.60,187.10 L532.60,187.10 L532.60,213.40 M532.60,213.40 L532.60,188.73 L536.74,188.73 L536.74,186.33 L540.53,186.33 L540.53,182.73 L544.01,182.73 L544.01,179.63 L547.23,179.63 L547.23,175.48 L550.23,175.48 L550.23,171.28 L553.03,171.28 L553.03,166.70 L555.67,166.70 L555.67,161.18 L558.15,161.18 L558.15,156.80 L560.50,156.80 L560.50,166.67 L563.45,166.67 L563.45,160.98 L566.21,160.98 L566.21,166.44 L569.43,166.44 L569.43,160.62 L572.43,160.62 L572.43,154.54 L575.24,154.54 L575.24,147.38 L577.87,147.38 L577.87,173.29 L582.71,173.29 L582.71,162.86 L587.06,162.86 L587.06,178.71 L594.64,178.71 L594.64,168.80 L602.57,168.80 L602.57,142.74 L609.27,142.74 L609.27,105.68 L615.07,105.68 L615.07,118.66 L624.77,118.66 L624.77,7.76 L632.70,7.76 L632.70,-21.66 L639.40,-21.66 L639.40,-21.66 L645.21,-21.66 L645.21,-21.66 L652.22,-21.66 L652.22,-21.66 L659.05,-21.66 L659.05,-21.66 L666.31,-21.66 L666.31,-21.66 L680.46,-21.66" fill="none" stroke="#505050" stroke-width="1.45" stroke-linejoin="miter" stroke-dasharray="2.1,1.5"/>
</g>
<line x1="388.60" y1="208.29" x2="391.10" y2="208.29" stroke="#333" stroke-width="0.9" />
<line x1="388.60" y1="203.18" x2="391.10" y2="203.18" stroke="#333" stroke-width="0.9" />
<line x1="388.60" y1="198.07" x2="391.10" y2="198.07" stroke="#333" stroke-width="0.9" />
<line x1="388.60" y1="192.96" x2="393.20" y2="192.96" stroke="#333" stroke-width="0.9" />
<line x1="388.60" y1="187.85" x2="391.10" y2="187.85" stroke="#333" stroke-width="0.9" />
<line x1="388.60" y1="182.74" x2="391.10" y2="182.74" stroke="#333" stroke-width="0.9" />
<line x1="388.60" y1="177.63" x2="391.10" y2="177.63" stroke="#333" stroke-width="0.9" />
<line x1="388.60" y1="172.52" x2="393.20" y2="172.52" stroke="#333" stroke-width="0.9" />
<line x1="388.60" y1="167.41" x2="391.10" y2="167.41" stroke="#333" stroke-width="0.9" />
<line x1="388.60" y1="162.30" x2="391.10" y2="162.30" stroke="#333" stroke-width="0.9" />
<line x1="388.60" y1="157.19" x2="391.10" y2="157.19" stroke="#333" stroke-width="0.9" />
<line x1="388.60" y1="152.08" x2="393.20" y2="152.08" stroke="#333" stroke-width="0.9" />
<line x1="388.60" y1="146.97" x2="391.10" y2="146.97" stroke="#333" stroke-width="0.9" />
<line x1="388.60" y1="141.86" x2="391.10" y2="141.86" stroke="#333" stroke-width="0.9" />
<line x1="388.60" y1="136.75" x2="391.10" y2="136.75" stroke="#333" stroke-width="0.9" />
<line x1="388.60" y1="131.64" x2="393.20" y2="131.64" stroke="#333" stroke-width="0.9" />
<line x1="388.60" y1="126.53" x2="391.10" y2="126.53" stroke="#333" stroke-width="0.9" />
<line x1="388.60" y1="121.42" x2="391.10" y2="121.42" stroke="#333" stroke-width="0.9" />
<line x1="388.60" y1="116.31" x2="391.10" y2="116.31" stroke="#333" stroke-width="0.9" />
<line x1="388.60" y1="111.20" x2="393.20" y2="111.20" stroke="#333" stroke-width="0.9" />
<line x1="388.60" y1="106.09" x2="391.10" y2="106.09" stroke="#333" stroke-width="0.9" />
<line x1="388.60" y1="100.98" x2="391.10" y2="100.98" stroke="#333" stroke-width="0.9" />
<line x1="388.60" y1="95.87" x2="391.10" y2="95.87" stroke="#333" stroke-width="0.9" />
<line x1="388.60" y1="90.76" x2="393.20" y2="90.76" stroke="#333" stroke-width="0.9" />
<line x1="388.60" y1="85.65" x2="391.10" y2="85.65" stroke="#333" stroke-width="0.9" />
<line x1="388.60" y1="80.54" x2="391.10" y2="80.54" stroke="#333" stroke-width="0.9" />
<line x1="388.60" y1="75.43" x2="391.10" y2="75.43" stroke="#333" stroke-width="0.9" />
<line x1="388.60" y1="70.32" x2="393.20" y2="70.32" stroke="#333" stroke-width="0.9" />
<line x1="388.60" y1="65.21" x2="391.10" y2="65.21" stroke="#333" stroke-width="0.9" />
<line x1="388.60" y1="60.10" x2="391.10" y2="60.10" stroke="#333" stroke-width="0.9" />
<line x1="388.60" y1="54.99" x2="391.10" y2="54.99" stroke="#333" stroke-width="0.9" />
<line x1="388.60" y1="49.88" x2="393.20" y2="49.88" stroke="#333" stroke-width="0.9" />
<line x1="388.60" y1="44.77" x2="391.10" y2="44.77" stroke="#333" stroke-width="0.9" />
<line x1="388.60" y1="39.66" x2="391.10" y2="39.66" stroke="#333" stroke-width="0.9" />
<line x1="388.60" y1="34.55" x2="391.10" y2="34.55" stroke="#333" stroke-width="0.9" />
<line x1="388.60" y1="29.44" x2="393.20" y2="29.44" stroke="#333" stroke-width="0.9" />
<line x1="388.60" y1="24.33" x2="391.10" y2="24.33" stroke="#333" stroke-width="0.9" />
<line x1="388.60" y1="19.22" x2="391.10" y2="19.22" stroke="#333" stroke-width="0.9" />
<line x1="388.60" y1="14.11" x2="391.10" y2="14.11" stroke="#333" stroke-width="0.9" />
<text x="373.90" y="196.96" font-size="10" fill="#000" >0.2</text>
<text x="373.70" y="176.52" font-size="10" fill="#000" >0.4</text>
<text x="373.85" y="156.08" font-size="10" fill="#000" >0.6</text>
<text x="373.80" y="135.64" font-size="10" fill="#000" >0.8</text>
<text x="382.25" y="115.20" font-size="10" fill="#000" >1</text>
<text x="373.90" y="94.76" font-size="10" fill="#000" >1.2</text>
<text x="373.70" y="74.32" font-size="10" fill="#000" >1.4</text>
<text x="373.85" y="53.88" font-size="10" fill="#000" >1.6</text>
<text x="373.80" y="33.44" font-size="10" fill="#000" >1.8</text>
<text x="382.25" y="13.00" font-size="10" fill="#000" >2</text>
<line x1="393.40" y1="9.00" x2="393.40" y2="11.50" stroke="#333" stroke-width="0.9" />
<line x1="393.40" y1="213.40" x2="393.40" y2="210.90" stroke="#333" stroke-width="0.9" />
<line x1="398.20" y1="9.00" x2="398.20" y2="11.50" stroke="#333" stroke-width="0.9" />
<line x1="398.20" y1="213.40" x2="398.20" y2="210.90" stroke="#333" stroke-width="0.9" />
<line x1="403.00" y1="9.00" x2="403.00" y2="11.50" stroke="#333" stroke-width="0.9" />
<line x1="403.00" y1="213.40" x2="403.00" y2="210.90" stroke="#333" stroke-width="0.9" />
<line x1="407.80" y1="9.00" x2="407.80" y2="11.50" stroke="#333" stroke-width="0.9" />
<line x1="407.80" y1="213.40" x2="407.80" y2="210.90" stroke="#333" stroke-width="0.9" />
<line x1="412.60" y1="9.00" x2="412.60" y2="14.50" stroke="#333" stroke-width="0.9" />
<line x1="412.60" y1="213.40" x2="412.60" y2="207.90" stroke="#333" stroke-width="0.9" />
<line x1="417.40" y1="9.00" x2="417.40" y2="11.50" stroke="#333" stroke-width="0.9" />
<line x1="417.40" y1="213.40" x2="417.40" y2="210.90" stroke="#333" stroke-width="0.9" />
<line x1="422.20" y1="9.00" x2="422.20" y2="11.50" stroke="#333" stroke-width="0.9" />
<line x1="422.20" y1="213.40" x2="422.20" y2="210.90" stroke="#333" stroke-width="0.9" />
<line x1="427.00" y1="9.00" x2="427.00" y2="11.50" stroke="#333" stroke-width="0.9" />
<line x1="427.00" y1="213.40" x2="427.00" y2="210.90" stroke="#333" stroke-width="0.9" />
<line x1="431.80" y1="9.00" x2="431.80" y2="11.50" stroke="#333" stroke-width="0.9" />
<line x1="431.80" y1="213.40" x2="431.80" y2="210.90" stroke="#333" stroke-width="0.9" />
<line x1="436.60" y1="9.00" x2="436.60" y2="14.50" stroke="#333" stroke-width="0.9" />
<line x1="436.60" y1="213.40" x2="436.60" y2="207.90" stroke="#333" stroke-width="0.9" />
<line x1="441.40" y1="9.00" x2="441.40" y2="11.50" stroke="#333" stroke-width="0.9" />
<line x1="441.40" y1="213.40" x2="441.40" y2="210.90" stroke="#333" stroke-width="0.9" />
<line x1="446.20" y1="9.00" x2="446.20" y2="11.50" stroke="#333" stroke-width="0.9" />
<line x1="446.20" y1="213.40" x2="446.20" y2="210.90" stroke="#333" stroke-width="0.9" />
<line x1="451.00" y1="9.00" x2="451.00" y2="11.50" stroke="#333" stroke-width="0.9" />
<line x1="451.00" y1="213.40" x2="451.00" y2="210.90" stroke="#333" stroke-width="0.9" />
<line x1="455.80" y1="9.00" x2="455.80" y2="11.50" stroke="#333" stroke-width="0.9" />
<line x1="455.80" y1="213.40" x2="455.80" y2="210.90" stroke="#333" stroke-width="0.9" />
<line x1="460.60" y1="9.00" x2="460.60" y2="14.50" stroke="#333" stroke-width="0.9" />
<line x1="460.60" y1="213.40" x2="460.60" y2="207.90" stroke="#333" stroke-width="0.9" />
<line x1="465.40" y1="9.00" x2="465.40" y2="11.50" stroke="#333" stroke-width="0.9" />
<line x1="465.40" y1="213.40" x2="465.40" y2="210.90" stroke="#333" stroke-width="0.9" />
<line x1="470.20" y1="9.00" x2="470.20" y2="11.50" stroke="#333" stroke-width="0.9" />
<line x1="470.20" y1="213.40" x2="470.20" y2="210.90" stroke="#333" stroke-width="0.9" />
<line x1="475.00" y1="9.00" x2="475.00" y2="11.50" stroke="#333" stroke-width="0.9" />
<line x1="475.00" y1="213.40" x2="475.00" y2="210.90" stroke="#333" stroke-width="0.9" />
<line x1="479.80" y1="9.00" x2="479.80" y2="11.50" stroke="#333" stroke-width="0.9" />
<line x1="479.80" y1="213.40" x2="479.80" y2="210.90" stroke="#333" stroke-width="0.9" />
<line x1="484.60" y1="9.00" x2="484.60" y2="14.50" stroke="#333" stroke-width="0.9" />
<line x1="484.60" y1="213.40" x2="484.60" y2="207.90" stroke="#333" stroke-width="0.9" />
<line x1="489.40" y1="9.00" x2="489.40" y2="11.50" stroke="#333" stroke-width="0.9" />
<line x1="489.40" y1="213.40" x2="489.40" y2="210.90" stroke="#333" stroke-width="0.9" />
<line x1="494.20" y1="9.00" x2="494.20" y2="11.50" stroke="#333" stroke-width="0.9" />
<line x1="494.20" y1="213.40" x2="494.20" y2="210.90" stroke="#333" stroke-width="0.9" />
<line x1="499.00" y1="9.00" x2="499.00" y2="11.50" stroke="#333" stroke-width="0.9" />
<line x1="499.00" y1="213.40" x2="499.00" y2="210.90" stroke="#333" stroke-width="0.9" />
<line x1="503.80" y1="9.00" x2="503.80" y2="11.50" stroke="#333" stroke-width="0.9" />
<line x1="503.80" y1="213.40" x2="503.80" y2="210.90" stroke="#333" stroke-width="0.9" />
<line x1="508.60" y1="9.00" x2="508.60" y2="14.50" stroke="#333" stroke-width="0.9" />
<line x1="508.60" y1="213.40" x2="508.60" y2="207.90" stroke="#333" stroke-width="0.9" />
<line x1="513.40" y1="9.00" x2="513.40" y2="11.50" stroke="#333" stroke-width="0.9" />
<line x1="513.40" y1="213.40" x2="513.40" y2="210.90" stroke="#333" stroke-width="0.9" />
<line x1="518.20" y1="9.00" x2="518.20" y2="11.50" stroke="#333" stroke-width="0.9" />
<line x1="518.20" y1="213.40" x2="518.20" y2="210.90" stroke="#333" stroke-width="0.9" />
<line x1="523.00" y1="9.00" x2="523.00" y2="11.50" stroke="#333" stroke-width="0.9" />
<line x1="523.00" y1="213.40" x2="523.00" y2="210.90" stroke="#333" stroke-width="0.9" />
<line x1="527.80" y1="9.00" x2="527.80" y2="11.50" stroke="#333" stroke-width="0.9" />
<line x1="527.80" y1="213.40" x2="527.80" y2="210.90" stroke="#333" stroke-width="0.9" />
<line x1="545.11" y1="9.00" x2="545.11" y2="12.40" stroke="#333" stroke-width="0.9" />
<line x1="545.11" y1="213.40" x2="545.11" y2="210.00" stroke="#333" stroke-width="0.9" />
<line x1="554.81" y1="9.00" x2="554.81" y2="12.40" stroke="#333" stroke-width="0.9" />
<line x1="554.81" y1="213.40" x2="554.81" y2="210.00" stroke="#333" stroke-width="0.9" />
<line x1="562.73" y1="9.00" x2="562.73" y2="12.40" stroke="#333" stroke-width="0.9" />
<line x1="562.73" y1="213.40" x2="562.73" y2="210.00" stroke="#333" stroke-width="0.9" />
<line x1="569.43" y1="9.00" x2="569.43" y2="12.40" stroke="#333" stroke-width="0.9" />
<line x1="569.43" y1="213.40" x2="569.43" y2="210.00" stroke="#333" stroke-width="0.9" />
<line x1="575.24" y1="9.00" x2="575.24" y2="12.40" stroke="#333" stroke-width="0.9" />
<line x1="575.24" y1="213.40" x2="575.24" y2="210.00" stroke="#333" stroke-width="0.9" />
<line x1="580.36" y1="9.00" x2="580.36" y2="12.40" stroke="#333" stroke-width="0.9" />
<line x1="580.36" y1="213.40" x2="580.36" y2="210.00" stroke="#333" stroke-width="0.9" />
<line x1="584.94" y1="9.00" x2="584.94" y2="15.50" stroke="#333" stroke-width="0.9" />
<line x1="584.94" y1="213.40" x2="584.94" y2="206.90" stroke="#333" stroke-width="0.9" />
<line x1="615.07" y1="9.00" x2="615.07" y2="12.40" stroke="#333" stroke-width="0.9" />
<line x1="615.07" y1="213.40" x2="615.07" y2="210.00" stroke="#333" stroke-width="0.9" />
<line x1="632.70" y1="9.00" x2="632.70" y2="12.40" stroke="#333" stroke-width="0.9" />
<line x1="632.70" y1="213.40" x2="632.70" y2="210.00" stroke="#333" stroke-width="0.9" />
<line x1="645.21" y1="9.00" x2="645.21" y2="12.40" stroke="#333" stroke-width="0.9" />
<line x1="645.21" y1="213.40" x2="645.21" y2="210.00" stroke="#333" stroke-width="0.9" />
<line x1="654.91" y1="9.00" x2="654.91" y2="12.40" stroke="#333" stroke-width="0.9" />
<line x1="654.91" y1="213.40" x2="654.91" y2="210.00" stroke="#333" stroke-width="0.9" />
<line x1="662.83" y1="9.00" x2="662.83" y2="12.40" stroke="#333" stroke-width="0.9" />
<line x1="662.83" y1="213.40" x2="662.83" y2="210.00" stroke="#333" stroke-width="0.9" />
<line x1="669.53" y1="9.00" x2="669.53" y2="12.40" stroke="#333" stroke-width="0.9" />
<line x1="669.53" y1="213.40" x2="669.53" y2="210.00" stroke="#333" stroke-width="0.9" />
<line x1="675.34" y1="9.00" x2="675.34" y2="12.40" stroke="#333" stroke-width="0.9" />
<line x1="675.34" y1="213.40" x2="675.34" y2="210.00" stroke="#333" stroke-width="0.9" />
<text x="385.63" y="226.00" font-size="10.7" fill="#000" >0</text>
<text x="409.63" y="226.00" font-size="10.7" fill="#000" >5</text>
<text x="430.45" y="226.00" font-size="10.7" fill="#000" >10</text>
<text x="454.48" y="226.00" font-size="10.7" fill="#000" >15</text>
<text x="478.57" y="226.00" font-size="10.7" fill="#000" >20</text>
<text x="502.60" y="226.00" font-size="10.7" fill="#000" >25</text>
<text x="526.65" y="226.00" font-size="10.7" fill="#000" >30</text>
<text x="577.52" y="226.00" font-size="10.7" fill="#000" >100</text>
<text x="625.78" y="226.00" font-size="10.7" fill="#000" >300</text>
<text x="667.48" y="226.00" font-size="10.7" fill="#000" >900</text>
<line x1="388.60" y1="9.40" x2="680.60" y2="9.40" stroke="#505050" stroke-width="1.1" stroke-linecap="square"/>
<line x1="680.60" y1="9.40" x2="680.60" y2="213.40" stroke="#505050" stroke-width="1.1" stroke-linecap="square"/>
<line x1="388.60" y1="213.40" x2="680.60" y2="213.40" stroke="#2a2a2a" stroke-width="1.15" stroke-linecap="square"/>
<line x1="388.60" y1="9.00" x2="388.60" y2="213.90" stroke="#7a7a7a" stroke-width="1.3" />
<text x="394.60" y="20.60" font-size="9.5" fill="#000" font-weight="bold" font-style="italic" textLength="33.61" lengthAdjust="spacingAndGlyphs" >ATLAS</text>
<path d="M395.10,30.60 L395.90,30.20 L397.00,33.60 L397.70,26.10 L402.40,26.10" fill="none" stroke="#111" stroke-width="0.75"/>
<path d="M396.00,30.30 L397.05,33.50" stroke="#111" stroke-width="1.30"/>
<text x="398.25" y="33.30" font-size="8.6" fill="#000" >s</text>
<text x="402.80" y="33.30" font-size="8.6" fill="#000" textLength="62.98" lengthAdjust="spacingAndGlyphs" >=13 TeV, 36.1 fb</text>
<text x="465.75" y="29.60" font-size="5.5" fill="#000" >-1</text>
<text x="394.15" y="42.70" font-size="8.6" fill="#000" textLength="11.09" lengthAdjust="spacingAndGlyphs" >Z/γ</text>
<polygon points="407.70,36.85 408.08,37.87 409.17,37.92 408.32,38.60 408.61,39.65 407.70,39.05 406.79,39.65 407.08,38.60 406.23,37.92 407.32,37.87" fill="#000"/>
<path d="M409.30,41.10 L416.80,41.10" stroke="#111" stroke-width="0.8"/>
<path d="M415.00,39.50 L417.30,41.10 L415.00,42.70" fill="none" stroke="#111" stroke-width="0.8"/>
<text x="417.40" y="42.70" font-size="8.6" fill="#000" textLength="60.39" lengthAdjust="spacingAndGlyphs" >μμ (normalized)</text>
<line x1="397.10" y1="55.15" x2="409.90" y2="55.15" stroke="#3d9bff" stroke-width="1.9" />
<text x="412.45" y="57.60" font-size="7.2" fill="#000" textLength="45.22" lengthAdjust="spacingAndGlyphs" >Statistical Unc.</text>
<line x1="397.10" y1="67.17" x2="409.90" y2="67.17" stroke="#ff44d2" stroke-width="1.9" />
<text x="412.20" y="69.62" font-size="7.2" fill="#000" textLength="57.96" lengthAdjust="spacingAndGlyphs" >Lepton Efficiencies</text>
<line x1="397.10" y1="79.19" x2="409.90" y2="79.19" stroke="#c800d8" stroke-width="1.9" />
<text x="412.20" y="81.64" font-size="7.2" fill="#000" textLength="74.66" lengthAdjust="spacingAndGlyphs" >Lepton Scale/Resolution</text>
<line x1="397.10" y1="91.21" x2="409.90" y2="91.21" stroke="#ffc000" stroke-width="1.9" />
<text x="412.20" y="93.66" font-size="7.2" fill="#000" textLength="35.47" lengthAdjust="spacingAndGlyphs" >Model Unc.</text>
<line x1="397.10" y1="103.23" x2="409.90" y2="103.23" stroke="#ff0000" stroke-width="1.9" />
<text x="412.45" y="105.68" font-size="7.2" fill="#000" textLength="20.81" lengthAdjust="spacingAndGlyphs" >Others</text>
<line x1="397.10" y1="115.25" x2="409.90" y2="115.25" stroke="#505050" stroke-width="1.2" stroke-dasharray="2.0,1.45"/>
<text x="412.65" y="117.70" font-size="7.2" fill="#000" textLength="14.86" lengthAdjust="spacingAndGlyphs" >Total</text>
<line x1="387.50" y1="5.40" x2="433.00" y2="5.40" stroke="#8c8c8c" stroke-width="1.2" />
<text x="439.35" y="7.90" font-size="5.6" fill="#000" textLength="30.03" lengthAdjust="spacingAndGlyphs" >Linear Scale</text>
<line x1="473.50" y1="5.40" x2="528.90" y2="5.40" stroke="#8c8c8c" stroke-width="1.2" />
<line x1="535.50" y1="5.40" x2="585.80" y2="5.40" stroke="#8c8c8c" stroke-width="1.2" />
<text x="588.75" y="7.90" font-size="5.6" fill="#000" textLength="42.11" lengthAdjust="spacingAndGlyphs" >Logarithmic Scale</text>
<line x1="635.50" y1="5.40" x2="680.40" y2="5.40" stroke="#8c8c8c" stroke-width="1.2" />
<text x="632.20" y="236.20" font-size="11.1" fill="#000" >p</text>
<text x="639.45" y="232.90" font-size="6.8" fill="#000" >ll</text>
<text x="639.35" y="240.90" font-size="7.1" fill="#000" >T</text>
<text x="647.10" y="236.20" font-size="11.1" fill="#000" textLength="27.28" lengthAdjust="spacingAndGlyphs" >[GeV]</text>
<text transform="translate(357.10,176.05) rotate(-90)" x="0" y="0" font-size="12.4" fill="#000" textLength="131.52" lengthAdjust="spacingAndGlyphs">Uncertainty on 1/σ dσ/dp</text>
<text transform="translate(363.30,44.10) rotate(-90)" x="0" y="0" font-size="8.0" fill="#000">T</text>
<text transform="translate(357.10,38.95) rotate(-90)" x="0" y="0" font-size="12.4" fill="#000" textLength="31.24" lengthAdjust="spacingAndGlyphs">(ll)[%]</text>
<clipPath id="clipBL"><rect x="45.00" y="257.40" width="285.60" height="205.90"/></clipPath>
<g clip-path="url(#clipBL)">
<path d="M46.20,461.70 L46.20,459.80 L69.38,459.80 L69.38,459.80 L92.85,459.80 L92.85,459.80 L106.57,459.80 L106.57,459.80 L116.31,459.80 L116.31,459.80 L123.87,459.80 L123.87,459.80 L130.04,459.80 L130.04,459.80 L136.44,459.80 L136.44,459.80 L141.83,459.80 L141.83,459.80 L146.47,459.80 L146.47,459.80 L151.32,459.80 L151.32,459.80 L155.56,459.80 L155.56,459.80 L159.32,459.80 L159.32,460.60 L163.24,460.60 L163.24,460.60 L167.23,460.60 L167.23,460.60 L171.22,460.60 L171.22,460.60 L175.16,460.60 L175.16,460.60 L179.02,460.60 L179.02,461.00 L182.79,461.00 L182.79,461.00 L186.71,461.00 L186.71,461.00 L190.93,461.00 L190.93,459.00 L195.30,459.00 L195.30,459.00 L199.90,459.00 L199.90,459.00 L204.89,459.00 L204.89,459.00 L210.44,459.00 L210.44,459.00 L216.87,459.00 L216.87,459.00 L224.51,459.00 L224.51,458.80 L234.42,458.80 L234.42,458.80 L243.98,458.80 L243.98,457.90 L253.40,457.90 L253.40,457.00 L261.12,457.00 L261.12,457.00 L269.94,457.00 L269.94,456.90 L278.86,456.90 L278.86,456.10 L287.62,456.10 L287.62,454.90 L296.48,454.90 L296.48,452.30 L310.78,452.30 L310.78,451.80 L333.60,451.80" fill="none" stroke="#c800d8" stroke-width="1.55" stroke-linejoin="miter"/>
<path d="M46.20,461.70 L46.20,461.20 L69.38,461.20 L69.38,461.20 L92.85,461.20 L92.85,461.20 L106.57,461.20 L106.57,461.20 L116.31,461.20 L116.31,461.20 L123.87,461.20 L123.87,461.20 L130.04,461.20 L130.04,461.20 L136.44,461.20 L136.44,461.20 L141.83,461.20 L141.83,461.20 L146.47,461.20 L146.47,461.20 L151.32,461.20 L151.32,461.20 L155.56,461.20 L155.56,461.20 L159.32,461.20 L159.32,461.20 L163.24,461.20 L163.24,461.20 L167.23,461.20 L167.23,461.20 L171.22,461.20 L171.22,461.20 L175.16,461.20 L175.16,461.20 L179.02,461.20 L179.02,460.60 L182.79,460.60 L182.79,460.60 L186.71,460.60 L186.71,460.60 L190.93,460.60 L190.93,460.60 L195.30,460.60 L195.30,460.60 L199.90,460.60 L199.90,460.60 L204.89,460.60 L204.89,460.60 L210.44,460.60 L210.44,460.60 L216.87,460.60 L216.87,461.30 L224.51,461.30 L224.51,461.30 L234.42,461.30 L234.42,460.50 L243.98,460.50 L243.98,459.60 L253.40,459.60 L253.40,456.50 L261.12,456.50 L261.12,451.80 L269.94,451.80 L269.94,444.10 L278.86,444.10 L278.86,429.80 L287.62,429.80 L287.62,407.60 L296.48,407.60 L296.48,400.70 L310.78,400.70 L310.78,382.90 L333.60,382.90" fill="none" stroke="#ffc000" stroke-width="1.55" stroke-linejoin="miter"/>
<path d="M46.20,461.70 L46.20,457.00 L69.38,457.00 L69.38,456.80 L92.85,456.80 L92.85,456.80 L106.57,456.80 L106.57,456.50 L116.31,456.50 L116.31,456.50 L123.87,456.50 L123.87,456.50 L130.04,456.50 L130.04,457.00 L136.44,457.00 L136.44,457.00 L141.83,457.00 L141.83,457.00 L146.47,457.00 L146.47,457.90 L151.32,457.90 L151.32,457.90 L155.56,457.90 L155.56,457.90 L159.32,457.90 L159.32,459.00 L163.24,459.00 L163.24,459.00 L167.23,459.00 L167.23,459.00 L171.22,459.00 L171.22,459.00 L175.16,459.00 L175.16,459.60 L179.02,459.60 L179.02,459.60 L182.79,459.60 L182.79,459.60 L186.71,459.60 L186.71,459.10 L190.93,459.10 L190.93,459.10 L195.30,459.10 L195.30,459.10 L199.90,459.10 L199.90,458.60 L204.89,458.60 L204.89,457.70 L210.44,457.70 L210.44,457.70 L216.87,457.70 L216.87,457.70 L224.51,457.70 L224.51,457.30 L234.42,457.30 L234.42,454.70 L243.98,454.70 L243.98,450.60 L253.40,450.60 L253.40,443.40 L261.12,443.40 L261.12,438.30 L269.94,438.30 L269.94,426.31 L278.86,426.31 L278.86,405.80 L287.62,405.80 L287.62,380.30 L296.48,380.30 L296.48,381.30 L310.78,381.30 L310.78,368.60 L333.60,368.60" fill="none" stroke="#ff44d2" stroke-width="1.55" stroke-linejoin="miter"/>
<path d="M46.20,461.70 L46.20,458.20 L69.38,458.20 L69.38,458.20 L92.85,458.20 L92.85,458.20 L106.57,458.20 L106.57,458.20 L116.31,458.20 L116.31,458.20 L123.87,458.20 L123.87,458.20 L130.04,458.20 L130.04,458.20 L136.44,458.20 L136.44,458.60 L141.83,458.60 L141.83,458.60 L146.47,458.60 L146.47,458.60 L151.32,458.60 L151.32,458.60 L155.56,458.60 L155.56,458.60 L159.32,458.60 L159.32,459.20 L163.24,459.20 L163.24,459.20 L167.23,459.20 L167.23,459.20 L171.22,459.20 L171.22,459.20 L175.16,459.20 L175.16,459.80 L179.02,459.80 L179.02,459.80 L182.79,459.80 L182.79,459.80 L186.71,459.80 L186.71,459.80 L190.93,459.80 L190.93,459.60 L195.30,459.60 L195.30,459.60 L199.90,459.60 L199.90,459.60 L204.89,459.60 L204.89,457.80 L210.44,457.80 L210.44,457.80 L216.87,457.80 L216.87,457.10 L224.51,457.10 L224.51,456.80 L234.42,456.80 L234.42,454.20 L243.98,454.20 L243.98,451.20 L253.40,451.20 L253.40,445.00 L261.12,445.00 L261.12,441.60 L269.94,441.60 L269.94,429.80 L278.86,429.80 L278.86,412.70 L287.62,412.70 L287.62,390.50 L296.48,390.50 L296.48,393.60 L310.78,393.60 L310.78,385.90 L333.60,385.90" fill="none" stroke="#ff0000" stroke-width="1.55" stroke-linejoin="miter"/>
<path d="M46.20,461.70 L46.20,441.40 L69.38,441.40 L69.38,441.20 L92.85,441.20 L92.85,440.80 L106.57,440.80 L106.57,440.10 L116.31,440.10 L116.31,439.20 L123.87,439.20 L123.87,438.10 L130.04,438.10 L130.04,441.60 L136.44,441.60 L136.44,440.80 L141.83,440.80 L141.83,439.40 L146.47,439.40 L146.47,441.80 L151.32,441.80 L151.32,439.90 L155.56,439.90 L155.56,438.60 L159.32,438.60 L159.32,439.90 L163.24,439.90 L163.24,441.20 L167.23,441.20 L167.23,441.20 L171.22,441.20 L171.22,440.80 L175.16,440.80 L175.16,440.80 L179.02,440.80 L179.02,440.10 L182.79,440.10 L182.79,440.60 L186.71,440.60 L186.71,441.60 L190.93,441.60 L190.93,441.60 L195.30,441.60 L195.30,442.10 L199.90,442.10 L199.90,442.30 L204.89,442.30 L204.89,443.40 L210.44,443.40 L210.44,444.60 L216.87,444.60 L216.87,445.30 L224.51,445.30 L224.51,446.00 L234.42,446.00 L234.42,440.90 L243.98,440.90 L243.98,433.90 L253.40,433.90 L253.40,417.80 L261.12,417.80 L261.12,411.00 L269.94,411.00 L269.94,389.80 L278.86,389.80 L278.86,354.90 L287.62,354.90 L287.62,311.60 L296.48,311.60 L296.48,319.41 L310.78,319.41 L310.78,300.60 L333.60,300.60" fill="none" stroke="#3d9bff" stroke-width="1.55" stroke-linejoin="miter"/>
<path d="M46.20,461.70 L46.20,440.48 L69.38,440.48 L69.38,440.24 L92.85,440.24 L92.85,439.86 L106.57,439.86 L106.57,439.11 L116.31,439.11 L116.31,438.26 L123.87,438.26 L123.87,437.20 L130.04,437.20 L130.04,440.67 L136.44,440.67 L136.44,439.96 L141.83,439.96 L141.83,438.61 L146.47,438.61 L146.47,441.12 L151.32,441.12 L151.32,439.27 L155.56,439.27 L155.56,438.01 L159.32,438.01 L159.32,439.56 L163.24,439.56 L163.24,440.83 L167.23,440.83 L167.23,440.83 L171.22,440.83 L171.22,440.44 L175.16,440.44 L175.16,440.58 L179.02,440.58 L179.02,439.87 L182.79,439.87 L182.79,440.37 L186.71,440.37 L186.71,441.30 L190.93,441.30 L190.93,441.12 L195.30,441.12 L195.30,441.60 L199.90,441.60 L199.90,441.73 L204.89,441.73 L204.89,442.35 L210.44,442.35 L210.44,443.48 L216.87,443.48 L216.87,444.00 L224.51,444.00 L224.51,444.43 L234.42,444.43 L234.42,438.30 L243.98,438.30 L243.98,429.69 L253.40,429.69 L253.40,410.81 L261.12,410.81 L261.12,401.35 L269.94,401.35 L269.94,373.53 L278.86,373.53 L278.86,327.61 L287.62,327.61 L287.62,268.83 L296.48,268.83 L296.48,274.19 L310.78,274.19 L310.78,245.66 L333.60,245.66" fill="none" stroke="#505050" stroke-width="1.45" stroke-linejoin="miter" stroke-dasharray="2.1,1.5"/>
</g>
<line x1="45.50" y1="456.59" x2="49.70" y2="456.59" stroke="#333" stroke-width="0.9" />
<line x1="330.60" y1="456.59" x2="326.40" y2="456.59" stroke="#333" stroke-width="0.9" />
<line x1="45.50" y1="451.49" x2="49.70" y2="451.49" stroke="#333" stroke-width="0.9" />
<line x1="330.60" y1="451.49" x2="326.40" y2="451.49" stroke="#333" stroke-width="0.9" />
<line x1="45.50" y1="446.38" x2="49.70" y2="446.38" stroke="#333" stroke-width="0.9" />
<line x1="330.60" y1="446.38" x2="326.40" y2="446.38" stroke="#333" stroke-width="0.9" />
<line x1="45.50" y1="441.27" x2="53.80" y2="441.27" stroke="#333" stroke-width="0.9" />
<line x1="330.60" y1="441.27" x2="322.30" y2="441.27" stroke="#333" stroke-width="0.9" />
<line x1="45.50" y1="436.16" x2="49.70" y2="436.16" stroke="#333" stroke-width="0.9" />
<line x1="330.60" y1="436.16" x2="326.40" y2="436.16" stroke="#333" stroke-width="0.9" />
<line x1="45.50" y1="431.06" x2="49.70" y2="431.06" stroke="#333" stroke-width="0.9" />
<line x1="330.60" y1="431.06" x2="326.40" y2="431.06" stroke="#333" stroke-width="0.9" />
<line x1="45.50" y1="425.95" x2="49.70" y2="425.95" stroke="#333" stroke-width="0.9" />
<line x1="330.60" y1="425.95" x2="326.40" y2="425.95" stroke="#333" stroke-width="0.9" />
<line x1="45.50" y1="420.84" x2="53.80" y2="420.84" stroke="#333" stroke-width="0.9" />
<line x1="330.60" y1="420.84" x2="322.30" y2="420.84" stroke="#333" stroke-width="0.9" />
<line x1="45.50" y1="415.73" x2="49.70" y2="415.73" stroke="#333" stroke-width="0.9" />
<line x1="330.60" y1="415.73" x2="326.40" y2="415.73" stroke="#333" stroke-width="0.9" />
<line x1="45.50" y1="410.62" x2="49.70" y2="410.62" stroke="#333" stroke-width="0.9" />
<line x1="330.60" y1="410.62" x2="326.40" y2="410.62" stroke="#333" stroke-width="0.9" />
<line x1="45.50" y1="405.52" x2="49.70" y2="405.52" stroke="#333" stroke-width="0.9" />
<line x1="330.60" y1="405.52" x2="326.40" y2="405.52" stroke="#333" stroke-width="0.9" />
<line x1="45.50" y1="400.41" x2="53.80" y2="400.41" stroke="#333" stroke-width="0.9" />
<line x1="330.60" y1="400.41" x2="322.30" y2="400.41" stroke="#333" stroke-width="0.9" />
<line x1="45.50" y1="395.30" x2="49.70" y2="395.30" stroke="#333" stroke-width="0.9" />
<line x1="330.60" y1="395.30" x2="326.40" y2="395.30" stroke="#333" stroke-width="0.9" />
<line x1="45.50" y1="390.19" x2="49.70" y2="390.19" stroke="#333" stroke-width="0.9" />
<line x1="330.60" y1="390.19" x2="326.40" y2="390.19" stroke="#333" stroke-width="0.9" />
<line x1="45.50" y1="385.09" x2="49.70" y2="385.09" stroke="#333" stroke-width="0.9" />
<line x1="330.60" y1="385.09" x2="326.40" y2="385.09" stroke="#333" stroke-width="0.9" />
<line x1="45.50" y1="379.98" x2="53.80" y2="379.98" stroke="#333" stroke-width="0.9" />
<line x1="330.60" y1="379.98" x2="322.30" y2="379.98" stroke="#333" stroke-width="0.9" />
<line x1="45.50" y1="374.87" x2="49.70" y2="374.87" stroke="#333" stroke-width="0.9" />
<line x1="330.60" y1="374.87" x2="326.40" y2="374.87" stroke="#333" stroke-width="0.9" />
<line x1="45.50" y1="369.76" x2="49.70" y2="369.76" stroke="#333" stroke-width="0.9" />
<line x1="330.60" y1="369.76" x2="326.40" y2="369.76" stroke="#333" stroke-width="0.9" />
<line x1="45.50" y1="364.66" x2="49.70" y2="364.66" stroke="#333" stroke-width="0.9" />
<line x1="330.60" y1="364.66" x2="326.40" y2="364.66" stroke="#333" stroke-width="0.9" />
<line x1="45.50" y1="359.55" x2="53.80" y2="359.55" stroke="#333" stroke-width="0.9" />
<line x1="330.60" y1="359.55" x2="322.30" y2="359.55" stroke="#333" stroke-width="0.9" />
<line x1="45.50" y1="354.44" x2="49.70" y2="354.44" stroke="#333" stroke-width="0.9" />
<line x1="330.60" y1="354.44" x2="326.40" y2="354.44" stroke="#333" stroke-width="0.9" />
<line x1="45.50" y1="349.33" x2="49.70" y2="349.33" stroke="#333" stroke-width="0.9" />
<line x1="330.60" y1="349.33" x2="326.40" y2="349.33" stroke="#333" stroke-width="0.9" />
<line x1="45.50" y1="344.23" x2="49.70" y2="344.23" stroke="#333" stroke-width="0.9" />
<line x1="330.60" y1="344.23" x2="326.40" y2="344.23" stroke="#333" stroke-width="0.9" />
<line x1="45.50" y1="339.12" x2="53.80" y2="339.12" stroke="#333" stroke-width="0.9" />
<line x1="330.60" y1="339.12" x2="322.30" y2="339.12" stroke="#333" stroke-width="0.9" />
<line x1="45.50" y1="334.01" x2="49.70" y2="334.01" stroke="#333" stroke-width="0.9" />
<line x1="330.60" y1="334.01" x2="326.40" y2="334.01" stroke="#333" stroke-width="0.9" />
<line x1="45.50" y1="328.90" x2="49.70" y2="328.90" stroke="#333" stroke-width="0.9" />
<line x1="330.60" y1="328.90" x2="326.40" y2="328.90" stroke="#333" stroke-width="0.9" />
<line x1="45.50" y1="323.80" x2="49.70" y2="323.80" stroke="#333" stroke-width="0.9" />
<line x1="330.60" y1="323.80" x2="326.40" y2="323.80" stroke="#333" stroke-width="0.9" />
<line x1="45.50" y1="318.69" x2="53.80" y2="318.69" stroke="#333" stroke-width="0.9" />
<line x1="330.60" y1="318.69" x2="322.30" y2="318.69" stroke="#333" stroke-width="0.9" />
<line x1="45.50" y1="313.58" x2="49.70" y2="313.58" stroke="#333" stroke-width="0.9" />
<line x1="330.60" y1="313.58" x2="326.40" y2="313.58" stroke="#333" stroke-width="0.9" />
<line x1="45.50" y1="308.47" x2="49.70" y2="308.47" stroke="#333" stroke-width="0.9" />
<line x1="330.60" y1="308.47" x2="326.40" y2="308.47" stroke="#333" stroke-width="0.9" />
<line x1="45.50" y1="303.37" x2="49.70" y2="303.37" stroke="#333" stroke-width="0.9" />
<line x1="330.60" y1="303.37" x2="326.40" y2="303.37" stroke="#333" stroke-width="0.9" />
<line x1="45.50" y1="298.26" x2="53.80" y2="298.26" stroke="#333" stroke-width="0.9" />
<line x1="330.60" y1="298.26" x2="322.30" y2="298.26" stroke="#333" stroke-width="0.9" />
<line x1="45.50" y1="293.15" x2="49.70" y2="293.15" stroke="#333" stroke-width="0.9" />
<line x1="330.60" y1="293.15" x2="326.40" y2="293.15" stroke="#333" stroke-width="0.9" />
<line x1="45.50" y1="288.04" x2="49.70" y2="288.04" stroke="#333" stroke-width="0.9" />
<line x1="330.60" y1="288.04" x2="326.40" y2="288.04" stroke="#333" stroke-width="0.9" />
<line x1="45.50" y1="282.94" x2="49.70" y2="282.94" stroke="#333" stroke-width="0.9" />
<line x1="330.60" y1="282.94" x2="326.40" y2="282.94" stroke="#333" stroke-width="0.9" />
<line x1="45.50" y1="277.83" x2="53.80" y2="277.83" stroke="#333" stroke-width="0.9" />
<line x1="330.60" y1="277.83" x2="322.30" y2="277.83" stroke="#333" stroke-width="0.9" />
<line x1="45.50" y1="272.72" x2="49.70" y2="272.72" stroke="#333" stroke-width="0.9" />
<line x1="330.60" y1="272.72" x2="326.40" y2="272.72" stroke="#333" stroke-width="0.9" />
<line x1="45.50" y1="267.61" x2="49.70" y2="267.61" stroke="#333" stroke-width="0.9" />
<line x1="330.60" y1="267.61" x2="326.40" y2="267.61" stroke="#333" stroke-width="0.9" />
<line x1="45.50" y1="262.51" x2="49.70" y2="262.51" stroke="#333" stroke-width="0.9" />
<line x1="330.60" y1="262.51" x2="326.40" y2="262.51" stroke="#333" stroke-width="0.9" />
<text x="30.10" y="445.47" font-size="10" fill="#000" >0.2</text>
<text x="29.90" y="425.04" font-size="10" fill="#000" >0.4</text>
<text x="30.05" y="404.61" font-size="10" fill="#000" >0.6</text>
<text x="30.00" y="384.18" font-size="10" fill="#000" >0.8</text>
<text x="38.45" y="363.75" font-size="10" fill="#000" >1</text>
<text x="30.10" y="343.32" font-size="10" fill="#000" >1.2</text>
<text x="29.90" y="322.89" font-size="10" fill="#000" >1.4</text>
<text x="30.05" y="302.46" font-size="10" fill="#000" >1.6</text>
<text x="30.00" y="282.03" font-size="10" fill="#000" >1.8</text>
<text x="38.45" y="261.60" font-size="10" fill="#000" >2</text>
<line x1="59.64" y1="257.40" x2="59.64" y2="260.80" stroke="#333" stroke-width="0.9" />
<line x1="59.64" y1="461.70" x2="59.64" y2="458.30" stroke="#333" stroke-width="0.9" />
<line x1="69.38" y1="257.40" x2="69.38" y2="260.80" stroke="#333" stroke-width="0.9" />
<line x1="69.38" y1="461.70" x2="69.38" y2="458.30" stroke="#333" stroke-width="0.9" />
<line x1="76.93" y1="257.40" x2="76.93" y2="260.80" stroke="#333" stroke-width="0.9" />
<line x1="76.93" y1="461.70" x2="76.93" y2="458.30" stroke="#333" stroke-width="0.9" />
<line x1="83.11" y1="257.40" x2="83.11" y2="260.80" stroke="#333" stroke-width="0.9" />
<line x1="83.11" y1="461.70" x2="83.11" y2="458.30" stroke="#333" stroke-width="0.9" />
<line x1="88.33" y1="257.40" x2="88.33" y2="260.80" stroke="#333" stroke-width="0.9" />
<line x1="88.33" y1="461.70" x2="88.33" y2="458.30" stroke="#333" stroke-width="0.9" />
<line x1="92.85" y1="257.40" x2="92.85" y2="260.80" stroke="#333" stroke-width="0.9" />
<line x1="92.85" y1="461.70" x2="92.85" y2="458.30" stroke="#333" stroke-width="0.9" />
<line x1="96.83" y1="257.40" x2="96.83" y2="260.80" stroke="#333" stroke-width="0.9" />
<line x1="96.83" y1="461.70" x2="96.83" y2="458.30" stroke="#333" stroke-width="0.9" />
<line x1="100.40" y1="257.40" x2="100.40" y2="263.70" stroke="#333" stroke-width="0.9" />
<line x1="100.40" y1="461.70" x2="100.40" y2="455.40" stroke="#333" stroke-width="0.9" />
<line x1="123.87" y1="257.40" x2="123.87" y2="260.80" stroke="#333" stroke-width="0.9" />
<line x1="123.87" y1="461.70" x2="123.87" y2="458.30" stroke="#333" stroke-width="0.9" />
<line x1="137.59" y1="257.40" x2="137.59" y2="260.80" stroke="#333" stroke-width="0.9" />
<line x1="137.59" y1="461.70" x2="137.59" y2="458.30" stroke="#333" stroke-width="0.9" />
<line x1="147.33" y1="257.40" x2="147.33" y2="260.80" stroke="#333" stroke-width="0.9" />
<line x1="147.33" y1="461.70" x2="147.33" y2="458.30" stroke="#333" stroke-width="0.9" />
<line x1="154.88" y1="257.40" x2="154.88" y2="260.80" stroke="#333" stroke-width="0.9" />
<line x1="154.88" y1="461.70" x2="154.88" y2="458.30" stroke="#333" stroke-width="0.9" />
<line x1="161.06" y1="257.40" x2="161.06" y2="260.80" stroke="#333" stroke-width="0.9" />
<line x1="161.06" y1="461.70" x2="161.06" y2="458.30" stroke="#333" stroke-width="0.9" />
<line x1="166.28" y1="257.40" x2="166.28" y2="260.80" stroke="#333" stroke-width="0.9" />
<line x1="166.28" y1="461.70" x2="166.28" y2="458.30" stroke="#333" stroke-width="0.9" />
<line x1="170.80" y1="257.40" x2="170.80" y2="260.80" stroke="#333" stroke-width="0.9" />
<line x1="170.80" y1="461.70" x2="170.80" y2="458.30" stroke="#333" stroke-width="0.9" />
<line x1="174.78" y1="257.40" x2="174.78" y2="260.80" stroke="#333" stroke-width="0.9" />
<line x1="174.78" y1="461.70" x2="174.78" y2="458.30" stroke="#333" stroke-width="0.9" />
<line x1="178.35" y1="257.40" x2="178.35" y2="263.70" stroke="#333" stroke-width="0.9" />
<line x1="178.35" y1="461.70" x2="178.35" y2="455.40" stroke="#333" stroke-width="0.9" />
<line x1="201.82" y1="257.40" x2="201.82" y2="260.80" stroke="#333" stroke-width="0.9" />
<line x1="201.82" y1="461.70" x2="201.82" y2="458.30" stroke="#333" stroke-width="0.9" />
<line x1="215.54" y1="257.40" x2="215.54" y2="260.80" stroke="#333" stroke-width="0.9" />
<line x1="215.54" y1="461.70" x2="215.54" y2="458.30" stroke="#333" stroke-width="0.9" />
<line x1="225.28" y1="257.40" x2="225.28" y2="260.80" stroke="#333" stroke-width="0.9" />
<line x1="225.28" y1="461.70" x2="225.28" y2="458.30" stroke="#333" stroke-width="0.9" />
<line x1="232.83" y1="257.40" x2="232.83" y2="260.80" stroke="#333" stroke-width="0.9" />
<line x1="232.83" y1="461.70" x2="232.83" y2="458.30" stroke="#333" stroke-width="0.9" />
<line x1="239.01" y1="257.40" x2="239.01" y2="260.80" stroke="#333" stroke-width="0.9" />
<line x1="239.01" y1="461.70" x2="239.01" y2="458.30" stroke="#333" stroke-width="0.9" />
<line x1="244.23" y1="257.40" x2="244.23" y2="260.80" stroke="#333" stroke-width="0.9" />
<line x1="244.23" y1="461.70" x2="244.23" y2="458.30" stroke="#333" stroke-width="0.9" />
<line x1="248.75" y1="257.40" x2="248.75" y2="260.80" stroke="#333" stroke-width="0.9" />
<line x1="248.75" y1="461.70" x2="248.75" y2="458.30" stroke="#333" stroke-width="0.9" />
<line x1="252.73" y1="257.40" x2="252.73" y2="260.80" stroke="#333" stroke-width="0.9" />
<line x1="252.73" y1="461.70" x2="252.73" y2="458.30" stroke="#333" stroke-width="0.9" />
<line x1="256.30" y1="257.40" x2="256.30" y2="263.70" stroke="#333" stroke-width="0.9" />
<line x1="256.30" y1="461.70" x2="256.30" y2="455.40" stroke="#333" stroke-width="0.9" />
<line x1="279.77" y1="257.40" x2="279.77" y2="260.80" stroke="#333" stroke-width="0.9" />
<line x1="279.77" y1="461.70" x2="279.77" y2="458.30" stroke="#333" stroke-width="0.9" />
<line x1="293.49" y1="257.40" x2="293.49" y2="260.80" stroke="#333" stroke-width="0.9" />
<line x1="293.49" y1="461.70" x2="293.49" y2="458.30" stroke="#333" stroke-width="0.9" />
<line x1="303.23" y1="257.40" x2="303.23" y2="260.80" stroke="#333" stroke-width="0.9" />
<line x1="303.23" y1="461.70" x2="303.23" y2="458.30" stroke="#333" stroke-width="0.9" />
<line x1="310.78" y1="257.40" x2="310.78" y2="260.80" stroke="#333" stroke-width="0.9" />
<line x1="310.78" y1="461.70" x2="310.78" y2="458.30" stroke="#333" stroke-width="0.9" />
<line x1="316.96" y1="257.40" x2="316.96" y2="260.80" stroke="#333" stroke-width="0.9" />
<line x1="316.96" y1="461.70" x2="316.96" y2="458.30" stroke="#333" stroke-width="0.9" />
<line x1="322.18" y1="257.40" x2="322.18" y2="260.80" stroke="#333" stroke-width="0.9" />
<line x1="322.18" y1="461.70" x2="322.18" y2="458.30" stroke="#333" stroke-width="0.9" />
<line x1="326.70" y1="257.40" x2="326.70" y2="260.80" stroke="#333" stroke-width="0.9" />
<line x1="326.70" y1="461.70" x2="326.70" y2="458.30" stroke="#333" stroke-width="0.9" />
<line x1="45.50" y1="257.40" x2="330.60" y2="257.40" stroke="#222" stroke-width="1.25" stroke-linecap="square"/>
<line x1="330.60" y1="257.40" x2="330.60" y2="461.70" stroke="#222" stroke-width="1.25" stroke-linecap="square"/>
<line x1="45.50" y1="461.70" x2="330.60" y2="461.70" stroke="#2a2a2a" stroke-width="1.15" stroke-linecap="square"/>
<line x1="45.50" y1="256.90" x2="45.50" y2="462.20" stroke="#2a2a2a" stroke-width="1.15" />
<text x="55.80" y="269.80" font-size="9.5" fill="#000" font-weight="bold" font-style="italic" textLength="34.01" lengthAdjust="spacingAndGlyphs" >ATLAS</text>
<path d="M55.50,278.86 L56.22,278.49 L57.22,281.57 L57.85,274.78 L62.11,274.78" fill="none" stroke="#111" stroke-width="0.68"/>
<path d="M56.31,278.59 L57.26,281.48" stroke="#111" stroke-width="1.18"/>
<text x="58.33" y="281.30" font-size="7.78" fill="#000" >s</text>
<text x="62.43" y="281.30" font-size="7.78" fill="#000" textLength="57.00" lengthAdjust="spacingAndGlyphs" >=13 TeV, 36.1 fb</text>
<text x="119.46" y="277.95" font-size="4.98" fill="#000" >-1</text>
<text x="55.85" y="291.40" font-size="7.78" fill="#000" textLength="10.03" lengthAdjust="spacingAndGlyphs" >Z/γ</text>
<polygon points="68.14,286.11 68.48,287.03 69.47,287.08 68.70,287.69 68.96,288.64 68.14,288.10 67.31,288.64 67.58,287.69 66.80,287.08 67.79,287.03" fill="#000"/>
<path d="M69.58,289.95 L76.37,289.95" stroke="#111" stroke-width="0.8"/>
<path d="M74.74,288.50 L76.82,289.95 L74.74,291.40" fill="none" stroke="#111" stroke-width="0.8"/>
<text x="77.11" y="291.40" font-size="7.78" fill="#000" textLength="54.05" lengthAdjust="spacingAndGlyphs" >ee (normalized)</text>
<line x1="58.40" y1="303.55" x2="72.70" y2="303.55" stroke="#3d9bff" stroke-width="1.55" />
<text x="75.35" y="306.00" font-size="7.2" fill="#000" textLength="45.22" lengthAdjust="spacingAndGlyphs" >Statistical Unc.</text>
<line x1="58.40" y1="315.61" x2="72.70" y2="315.61" stroke="#ff44d2" stroke-width="1.55" />
<text x="75.10" y="318.06" font-size="7.2" fill="#000" textLength="57.96" lengthAdjust="spacingAndGlyphs" >Lepton Efficiencies</text>
<line x1="58.40" y1="327.67" x2="72.70" y2="327.67" stroke="#c800d8" stroke-width="1.55" />
<text x="75.10" y="330.12" font-size="7.2" fill="#000" textLength="74.66" lengthAdjust="spacingAndGlyphs" >Lepton Scale/Resolution</text>
<line x1="58.40" y1="339.73" x2="72.70" y2="339.73" stroke="#ffc000" stroke-width="1.55" />
<text x="75.10" y="342.18" font-size="7.2" fill="#000" textLength="35.47" lengthAdjust="spacingAndGlyphs" >Model Unc.</text>
<line x1="58.40" y1="351.79" x2="72.70" y2="351.79" stroke="#ff0000" stroke-width="1.55" />
<text x="75.35" y="354.24" font-size="7.2" fill="#000" textLength="20.81" lengthAdjust="spacingAndGlyphs" >Others</text>
<line x1="58.40" y1="363.85" x2="72.70" y2="363.85" stroke="#505050" stroke-width="1.2" stroke-dasharray="2.0,1.45"/>
<text x="75.55" y="366.30" font-size="7.2" fill="#000" textLength="14.86" lengthAdjust="spacingAndGlyphs" >Total</text>
<text x="293.30" y="483.30" font-size="12.2" fill="#000" >ϕ</text>
<polygon points="302.50,474.50 303.04,475.95 304.59,476.02 303.38,476.99 303.79,478.48 302.50,477.62 301.21,478.48 301.62,476.99 300.41,476.02 301.96,475.95" fill="#000"/>
<text x="300.10" y="488.00" font-size="8.0" fill="#000" >η</text>
<text x="309.20" y="483.40" font-size="12.5" fill="#000" textLength="21.98" lengthAdjust="spacingAndGlyphs" >(ee)</text>
<text x="90.55" y="474.90" font-size="10" fill="#000" >10</text>
<text x="101.45" y="470.80" font-size="7.4" fill="#000" >−2</text>
<text x="168.50" y="474.90" font-size="10" fill="#000" >10</text>
<text x="179.40" y="470.80" font-size="7.4" fill="#000" >−1</text>
<text x="253.75" y="474.90" font-size="10" fill="#000" >1</text>
<text transform="translate(13.00,422.90) rotate(-90)" x="0" y="0" font-size="12.85" fill="#000" textLength="136.69" lengthAdjust="spacingAndGlyphs">Uncertainty on 1/σ dσ/dϕ</text>
<polygon points="5.20,283.00 5.67,284.25 7.01,284.31 5.96,285.15 6.32,286.44 5.20,285.70 4.08,286.44 4.44,285.15 3.39,284.31 4.73,284.25" fill="#000"/>
<text transform="translate(19.40,285.55) rotate(-90)" x="0" y="0" font-size="8.5" fill="#000">η</text>
<text transform="translate(13.00,274.30) rotate(-90)" x="0" y="0" font-size="12.85" fill="#000" textLength="18.12" lengthAdjust="spacingAndGlyphs">[%]</text>
<clipPath id="clipBR"><rect x="391.30" y="257.40" width="285.60" height="205.90"/></clipPath>
<g clip-path="url(#clipBR)">
<path d="M392.50,461.70 L392.50,461.00 L415.68,461.00 L415.68,461.00 L439.15,461.00 L439.15,461.00 L452.87,461.00 L452.87,461.00 L462.61,461.00 L462.61,461.00 L470.17,461.00 L470.17,461.00 L476.34,461.00 L476.34,461.00 L482.74,461.00 L482.74,461.00 L488.13,461.00 L488.13,461.00 L492.77,461.00 L492.77,461.00 L497.62,461.00 L497.62,461.00 L501.86,461.00 L501.86,461.00 L505.62,461.00 L505.62,461.00 L509.54,461.00 L509.54,461.00 L513.53,461.00 L513.53,461.00 L517.52,461.00 L517.52,461.00 L521.46,461.00 L521.46,461.00 L525.32,461.00 L525.32,461.00 L529.09,461.00 L529.09,461.00 L533.01,461.00 L533.01,461.00 L537.23,461.00 L537.23,461.00 L541.60,461.00 L541.60,461.00 L546.20,461.00 L546.20,461.00 L551.19,461.00 L551.19,461.00 L556.74,461.00 L556.74,461.00 L563.17,461.00 L563.17,461.00 L570.81,461.00 L570.81,461.00 L580.72,461.00 L580.72,459.90 L590.28,459.90 L590.28,459.90 L599.70,459.90 L599.70,458.70 L607.42,458.70 L607.42,458.70 L616.24,458.70 L616.24,458.30 L625.16,458.30 L625.16,457.90 L633.92,457.90 L633.92,458.30 L642.78,458.30 L642.78,459.50 L657.08,459.50 L657.08,460.40 L679.90,460.40" fill="none" stroke="#c800d8" stroke-width="1.55" stroke-linejoin="miter"/>
<path d="M392.50,461.70 L392.50,459.30 L415.68,459.30 L415.68,459.30 L439.15,459.30 L439.15,459.30 L452.87,459.30 L452.87,459.30 L462.61,459.30 L462.61,459.30 L470.17,459.30 L470.17,459.30 L476.34,459.30 L476.34,459.30 L482.74,459.30 L482.74,459.30 L488.13,459.30 L488.13,459.30 L492.77,459.30 L492.77,459.30 L497.62,459.30 L497.62,459.30 L501.86,459.30 L501.86,460.30 L505.62,460.30 L505.62,460.30 L509.54,460.30 L509.54,460.30 L513.53,460.30 L513.53,460.30 L517.52,460.30 L517.52,460.30 L521.46,460.30 L521.46,460.30 L525.32,460.30 L525.32,460.30 L529.09,460.30 L529.09,460.30 L533.01,460.30 L533.01,460.30 L537.23,460.30 L537.23,460.30 L541.60,460.30 L541.60,460.30 L546.20,460.30 L546.20,461.00 L551.19,461.00 L551.19,461.00 L556.74,461.00 L556.74,461.00 L563.17,461.00 L563.17,461.00 L570.81,461.00 L570.81,461.00 L580.72,461.00 L580.72,461.00 L590.28,461.00 L590.28,458.50 L599.70,458.50 L599.70,455.20 L607.42,455.20 L607.42,453.00 L616.24,453.00 L616.24,448.50 L625.16,448.50 L625.16,439.90 L633.92,439.90 L633.92,429.50 L642.78,429.50 L642.78,429.90 L657.08,429.90 L657.08,426.20 L679.90,426.20" fill="none" stroke="#ffc000" stroke-width="1.55" stroke-linejoin="miter"/>
<path d="M392.50,461.70 L392.50,460.30 L415.68,460.30 L415.68,460.30 L439.15,460.30 L439.15,460.30 L452.87,460.30 L452.87,460.30 L462.61,460.30 L462.61,460.30 L470.17,460.30 L470.17,460.30 L476.34,460.30 L476.34,460.30 L482.74,460.30 L482.74,460.30 L488.13,460.30 L488.13,460.30 L492.77,460.30 L492.77,460.30 L497.62,460.30 L497.62,460.30 L501.86,460.30 L501.86,460.30 L505.62,460.30 L505.62,460.30 L509.54,460.30 L509.54,460.30 L513.53,460.30 L513.53,460.30 L517.52,460.30 L517.52,460.30 L521.46,460.30 L521.46,460.30 L525.32,460.30 L525.32,460.30 L529.09,460.30 L529.09,460.30 L533.01,460.30 L533.01,460.30 L537.23,460.30 L537.23,460.30 L541.60,460.30 L541.60,460.30 L546.20,460.30 L546.20,460.30 L551.19,460.30 L551.19,460.30 L556.74,460.30 L556.74,460.30 L563.17,460.30 L563.17,460.30 L570.81,460.30 L570.81,459.40 L580.72,459.40 L580.72,459.40 L590.28,459.40 L590.28,457.80 L599.70,457.80 L599.70,455.50 L607.42,455.50 L607.42,453.80 L616.24,453.80 L616.24,448.90 L625.16,448.90 L625.16,440.50 L633.92,440.50 L633.92,430.11 L642.78,430.11 L642.78,428.50 L657.08,428.50 L657.08,421.30 L679.90,421.30" fill="none" stroke="#ff44d2" stroke-width="1.55" stroke-linejoin="miter"/>
<path d="M392.50,461.70 L392.50,461.00 L415.68,461.00 L415.68,461.00 L439.15,461.00 L439.15,461.00 L452.87,461.00 L452.87,461.00 L462.61,461.00 L462.61,461.00 L470.17,461.00 L470.17,461.00 L476.34,461.00 L476.34,461.00 L482.74,461.00 L482.74,461.00 L488.13,461.00 L488.13,461.00 L492.77,461.00 L492.77,461.00 L497.62,461.00 L497.62,461.00 L501.86,461.00 L501.86,460.60 L505.62,460.60 L505.62,460.60 L509.54,460.60 L509.54,460.60 L513.53,460.60 L513.53,460.60 L517.52,460.60 L517.52,460.60 L521.46,460.60 L521.46,460.60 L525.32,460.60 L525.32,460.60 L529.09,460.60 L529.09,460.60 L533.01,460.60 L533.01,460.60 L537.23,460.60 L537.23,460.60 L541.60,460.60 L541.60,460.60 L546.20,460.60 L546.20,459.80 L551.19,459.80 L551.19,459.80 L556.74,459.80 L556.74,459.80 L563.17,459.80 L563.17,459.80 L570.81,459.80 L570.81,459.10 L580.72,459.10 L580.72,458.50 L590.28,458.50 L590.28,457.30 L599.70,457.30 L599.70,454.60 L607.42,454.60 L607.42,452.50 L616.24,452.50 L616.24,448.10 L625.16,448.10 L625.16,440.80 L633.92,440.80 L633.92,431.30 L642.78,431.30 L642.78,432.90 L657.08,432.90 L657.08,431.10 L679.90,431.10" fill="none" stroke="#ff0000" stroke-width="1.55" stroke-linejoin="miter"/>
<path d="M392.50,461.70 L392.50,444.30 L415.68,444.30 L415.68,444.30 L439.15,444.30 L439.15,444.30 L452.87,444.30 L452.87,443.90 L462.61,443.90 L462.61,443.40 L470.17,443.40 L470.17,442.60 L476.34,442.60 L476.34,446.00 L482.74,446.00 L482.74,444.90 L488.13,444.90 L488.13,443.90 L492.77,443.90 L492.77,446.30 L497.62,446.30 L497.62,444.90 L501.86,444.90 L501.86,443.60 L505.62,443.60 L505.62,444.60 L509.54,444.60 L509.54,445.40 L513.53,445.40 L513.53,446.00 L517.52,446.00 L517.52,445.40 L521.46,445.40 L521.46,444.60 L525.32,444.60 L525.32,444.20 L529.09,444.20 L529.09,445.00 L533.01,445.00 L533.01,445.70 L537.23,445.70 L537.23,445.70 L541.60,445.70 L541.60,445.70 L546.20,445.70 L546.20,446.10 L551.19,446.10 L551.19,446.80 L556.74,446.80 L556.74,447.60 L563.17,447.60 L563.17,448.10 L570.81,448.10 L570.81,449.30 L580.72,449.30 L580.72,444.80 L590.28,444.80 L590.28,440.50 L599.70,440.50 L599.70,427.00 L607.42,427.00 L607.42,420.40 L616.24,420.40 L616.24,402.20 L625.16,402.20 L625.16,374.70 L633.92,374.70 L633.92,341.00 L642.78,341.00 L642.78,345.60 L657.08,345.60 L657.08,333.40 L679.90,333.40" fill="none" stroke="#3d9bff" stroke-width="1.55" stroke-linejoin="miter"/>
<path d="M392.50,461.70 L392.50,444.06 L415.68,444.06 L415.68,444.06 L439.15,444.06 L439.15,444.06 L452.87,444.06 L452.87,443.65 L462.61,443.65 L462.61,443.17 L470.17,443.17 L470.17,442.37 L476.34,442.37 L476.34,445.72 L482.74,445.72 L482.74,444.64 L488.13,444.64 L488.13,443.65 L492.77,443.65 L492.77,446.02 L497.62,446.02 L497.62,444.64 L501.86,444.64 L501.86,443.45 L505.62,443.45 L505.62,444.44 L509.54,444.44 L509.54,445.22 L513.53,445.22 L513.53,445.83 L517.52,445.83 L517.52,445.22 L521.46,445.22 L521.46,444.44 L525.32,444.44 L525.32,444.04 L529.09,444.04 L529.09,444.84 L533.01,444.84 L533.01,445.53 L537.23,445.53 L537.23,445.53 L541.60,445.53 L541.60,445.53 L546.20,445.53 L546.20,445.90 L551.19,445.90 L551.19,446.58 L556.74,446.58 L556.74,447.37 L563.17,447.37 L563.17,447.87 L570.81,447.87 L570.81,448.78 L580.72,448.78 L580.72,444.24 L590.28,444.24 L590.28,439.40 L599.70,439.40 L599.70,425.04 L607.42,425.04 L607.42,417.68 L616.24,417.68 L616.24,397.87 L625.16,397.87 L625.16,367.12 L633.92,367.12 L633.92,329.26 L642.78,329.26 L642.78,333.53 L657.08,333.53 L657.08,319.25 L679.90,319.25" fill="none" stroke="#505050" stroke-width="1.45" stroke-linejoin="miter" stroke-dasharray="2.1,1.5"/>
</g>
<line x1="391.80" y1="456.59" x2="396.00" y2="456.59" stroke="#333" stroke-width="0.9" />
<line x1="676.90" y1="456.59" x2="672.70" y2="456.59" stroke="#333" stroke-width="0.9" />
<line x1="391.80" y1="451.49" x2="396.00" y2="451.49" stroke="#333" stroke-width="0.9" />
<line x1="676.90" y1="451.49" x2="672.70" y2="451.49" stroke="#333" stroke-width="0.9" />
<line x1="391.80" y1="446.38" x2="396.00" y2="446.38" stroke="#333" stroke-width="0.9" />
<line x1="676.90" y1="446.38" x2="672.70" y2="446.38" stroke="#333" stroke-width="0.9" />
<line x1="391.80" y1="441.27" x2="400.10" y2="441.27" stroke="#333" stroke-width="0.9" />
<line x1="676.90" y1="441.27" x2="668.60" y2="441.27" stroke="#333" stroke-width="0.9" />
<line x1="391.80" y1="436.16" x2="396.00" y2="436.16" stroke="#333" stroke-width="0.9" />
<line x1="676.90" y1="436.16" x2="672.70" y2="436.16" stroke="#333" stroke-width="0.9" />
<line x1="391.80" y1="431.06" x2="396.00" y2="431.06" stroke="#333" stroke-width="0.9" />
<line x1="676.90" y1="431.06" x2="672.70" y2="431.06" stroke="#333" stroke-width="0.9" />
<line x1="391.80" y1="425.95" x2="396.00" y2="425.95" stroke="#333" stroke-width="0.9" />
<line x1="676.90" y1="425.95" x2="672.70" y2="425.95" stroke="#333" stroke-width="0.9" />
<line x1="391.80" y1="420.84" x2="400.10" y2="420.84" stroke="#333" stroke-width="0.9" />
<line x1="676.90" y1="420.84" x2="668.60" y2="420.84" stroke="#333" stroke-width="0.9" />
<line x1="391.80" y1="415.73" x2="396.00" y2="415.73" stroke="#333" stroke-width="0.9" />
<line x1="676.90" y1="415.73" x2="672.70" y2="415.73" stroke="#333" stroke-width="0.9" />
<line x1="391.80" y1="410.62" x2="396.00" y2="410.62" stroke="#333" stroke-width="0.9" />
<line x1="676.90" y1="410.62" x2="672.70" y2="410.62" stroke="#333" stroke-width="0.9" />
<line x1="391.80" y1="405.52" x2="396.00" y2="405.52" stroke="#333" stroke-width="0.9" />
<line x1="676.90" y1="405.52" x2="672.70" y2="405.52" stroke="#333" stroke-width="0.9" />
<line x1="391.80" y1="400.41" x2="400.10" y2="400.41" stroke="#333" stroke-width="0.9" />
<line x1="676.90" y1="400.41" x2="668.60" y2="400.41" stroke="#333" stroke-width="0.9" />
<line x1="391.80" y1="395.30" x2="396.00" y2="395.30" stroke="#333" stroke-width="0.9" />
<line x1="676.90" y1="395.30" x2="672.70" y2="395.30" stroke="#333" stroke-width="0.9" />
<line x1="391.80" y1="390.19" x2="396.00" y2="390.19" stroke="#333" stroke-width="0.9" />
<line x1="676.90" y1="390.19" x2="672.70" y2="390.19" stroke="#333" stroke-width="0.9" />
<line x1="391.80" y1="385.09" x2="396.00" y2="385.09" stroke="#333" stroke-width="0.9" />
<line x1="676.90" y1="385.09" x2="672.70" y2="385.09" stroke="#333" stroke-width="0.9" />
<line x1="391.80" y1="379.98" x2="400.10" y2="379.98" stroke="#333" stroke-width="0.9" />
<line x1="676.90" y1="379.98" x2="668.60" y2="379.98" stroke="#333" stroke-width="0.9" />
<line x1="391.80" y1="374.87" x2="396.00" y2="374.87" stroke="#333" stroke-width="0.9" />
<line x1="676.90" y1="374.87" x2="672.70" y2="374.87" stroke="#333" stroke-width="0.9" />
<line x1="391.80" y1="369.76" x2="396.00" y2="369.76" stroke="#333" stroke-width="0.9" />
<line x1="676.90" y1="369.76" x2="672.70" y2="369.76" stroke="#333" stroke-width="0.9" />
<line x1="391.80" y1="364.66" x2="396.00" y2="364.66" stroke="#333" stroke-width="0.9" />
<line x1="676.90" y1="364.66" x2="672.70" y2="364.66" stroke="#333" stroke-width="0.9" />
<line x1="391.80" y1="359.55" x2="400.10" y2="359.55" stroke="#333" stroke-width="0.9" />
<line x1="676.90" y1="359.55" x2="668.60" y2="359.55" stroke="#333" stroke-width="0.9" />
<line x1="391.80" y1="354.44" x2="396.00" y2="354.44" stroke="#333" stroke-width="0.9" />
<line x1="676.90" y1="354.44" x2="672.70" y2="354.44" stroke="#333" stroke-width="0.9" />
<line x1="391.80" y1="349.33" x2="396.00" y2="349.33" stroke="#333" stroke-width="0.9" />
<line x1="676.90" y1="349.33" x2="672.70" y2="349.33" stroke="#333" stroke-width="0.9" />
<line x1="391.80" y1="344.23" x2="396.00" y2="344.23" stroke="#333" stroke-width="0.9" />
<line x1="676.90" y1="344.23" x2="672.70" y2="344.23" stroke="#333" stroke-width="0.9" />
<line x1="391.80" y1="339.12" x2="400.10" y2="339.12" stroke="#333" stroke-width="0.9" />
<line x1="676.90" y1="339.12" x2="668.60" y2="339.12" stroke="#333" stroke-width="0.9" />
<line x1="391.80" y1="334.01" x2="396.00" y2="334.01" stroke="#333" stroke-width="0.9" />
<line x1="676.90" y1="334.01" x2="672.70" y2="334.01" stroke="#333" stroke-width="0.9" />
<line x1="391.80" y1="328.90" x2="396.00" y2="328.90" stroke="#333" stroke-width="0.9" />
<line x1="676.90" y1="328.90" x2="672.70" y2="328.90" stroke="#333" stroke-width="0.9" />
<line x1="391.80" y1="323.80" x2="396.00" y2="323.80" stroke="#333" stroke-width="0.9" />
<line x1="676.90" y1="323.80" x2="672.70" y2="323.80" stroke="#333" stroke-width="0.9" />
<line x1="391.80" y1="318.69" x2="400.10" y2="318.69" stroke="#333" stroke-width="0.9" />
<line x1="676.90" y1="318.69" x2="668.60" y2="318.69" stroke="#333" stroke-width="0.9" />
<line x1="391.80" y1="313.58" x2="396.00" y2="313.58" stroke="#333" stroke-width="0.9" />
<line x1="676.90" y1="313.58" x2="672.70" y2="313.58" stroke="#333" stroke-width="0.9" />
<line x1="391.80" y1="308.47" x2="396.00" y2="308.47" stroke="#333" stroke-width="0.9" />
<line x1="676.90" y1="308.47" x2="672.70" y2="308.47" stroke="#333" stroke-width="0.9" />
<line x1="391.80" y1="303.37" x2="396.00" y2="303.37" stroke="#333" stroke-width="0.9" />
<line x1="676.90" y1="303.37" x2="672.70" y2="303.37" stroke="#333" stroke-width="0.9" />
<line x1="391.80" y1="298.26" x2="400.10" y2="298.26" stroke="#333" stroke-width="0.9" />
<line x1="676.90" y1="298.26" x2="668.60" y2="298.26" stroke="#333" stroke-width="0.9" />
<line x1="391.80" y1="293.15" x2="396.00" y2="293.15" stroke="#333" stroke-width="0.9" />
<line x1="676.90" y1="293.15" x2="672.70" y2="293.15" stroke="#333" stroke-width="0.9" />
<line x1="391.80" y1="288.04" x2="396.00" y2="288.04" stroke="#333" stroke-width="0.9" />
<line x1="676.90" y1="288.04" x2="672.70" y2="288.04" stroke="#333" stroke-width="0.9" />
<line x1="391.80" y1="282.94" x2="396.00" y2="282.94" stroke="#333" stroke-width="0.9" />
<line x1="676.90" y1="282.94" x2="672.70" y2="282.94" stroke="#333" stroke-width="0.9" />
<line x1="391.80" y1="277.83" x2="400.10" y2="277.83" stroke="#333" stroke-width="0.9" />
<line x1="676.90" y1="277.83" x2="668.60" y2="277.83" stroke="#333" stroke-width="0.9" />
<line x1="391.80" y1="272.72" x2="396.00" y2="272.72" stroke="#333" stroke-width="0.9" />
<line x1="676.90" y1="272.72" x2="672.70" y2="272.72" stroke="#333" stroke-width="0.9" />
<line x1="391.80" y1="267.61" x2="396.00" y2="267.61" stroke="#333" stroke-width="0.9" />
<line x1="676.90" y1="267.61" x2="672.70" y2="267.61" stroke="#333" stroke-width="0.9" />
<line x1="391.80" y1="262.51" x2="396.00" y2="262.51" stroke="#333" stroke-width="0.9" />
<line x1="676.90" y1="262.51" x2="672.70" y2="262.51" stroke="#333" stroke-width="0.9" />
<text x="376.40" y="445.47" font-size="10" fill="#000" >0.2</text>
<text x="376.20" y="425.04" font-size="10" fill="#000" >0.4</text>
<text x="376.35" y="404.61" font-size="10" fill="#000" >0.6</text>
<text x="376.30" y="384.18" font-size="10" fill="#000" >0.8</text>
<text x="384.75" y="363.75" font-size="10" fill="#000" >1</text>
<text x="376.40" y="343.32" font-size="10" fill="#000" >1.2</text>
<text x="376.20" y="322.89" font-size="10" fill="#000" >1.4</text>
<text x="376.35" y="302.46" font-size="10" fill="#000" >1.6</text>
<text x="376.30" y="282.03" font-size="10" fill="#000" >1.8</text>
<text x="384.75" y="261.60" font-size="10" fill="#000" >2</text>
<line x1="405.94" y1="257.40" x2="405.94" y2="260.80" stroke="#333" stroke-width="0.9" />
<line x1="405.94" y1="461.70" x2="405.94" y2="458.30" stroke="#333" stroke-width="0.9" />
<line x1="415.68" y1="257.40" x2="415.68" y2="260.80" stroke="#333" stroke-width="0.9" />
<line x1="415.68" y1="461.70" x2="415.68" y2="458.30" stroke="#333" stroke-width="0.9" />
<line x1="423.23" y1="257.40" x2="423.23" y2="260.80" stroke="#333" stroke-width="0.9" />
<line x1="423.23" y1="461.70" x2="423.23" y2="458.30" stroke="#333" stroke-width="0.9" />
<line x1="429.41" y1="257.40" x2="429.41" y2="260.80" stroke="#333" stroke-width="0.9" />
<line x1="429.41" y1="461.70" x2="429.41" y2="458.30" stroke="#333" stroke-width="0.9" />
<line x1="434.63" y1="257.40" x2="434.63" y2="260.80" stroke="#333" stroke-width="0.9" />
<line x1="434.63" y1="461.70" x2="434.63" y2="458.30" stroke="#333" stroke-width="0.9" />
<line x1="439.15" y1="257.40" x2="439.15" y2="260.80" stroke="#333" stroke-width="0.9" />
<line x1="439.15" y1="461.70" x2="439.15" y2="458.30" stroke="#333" stroke-width="0.9" />
<line x1="443.13" y1="257.40" x2="443.13" y2="260.80" stroke="#333" stroke-width="0.9" />
<line x1="443.13" y1="461.70" x2="443.13" y2="458.30" stroke="#333" stroke-width="0.9" />
<line x1="446.70" y1="257.40" x2="446.70" y2="263.70" stroke="#333" stroke-width="0.9" />
<line x1="446.70" y1="461.70" x2="446.70" y2="455.40" stroke="#333" stroke-width="0.9" />
<line x1="470.17" y1="257.40" x2="470.17" y2="260.80" stroke="#333" stroke-width="0.9" />
<line x1="470.17" y1="461.70" x2="470.17" y2="458.30" stroke="#333" stroke-width="0.9" />
<line x1="483.89" y1="257.40" x2="483.89" y2="260.80" stroke="#333" stroke-width="0.9" />
<line x1="483.89" y1="461.70" x2="483.89" y2="458.30" stroke="#333" stroke-width="0.9" />
<line x1="493.63" y1="257.40" x2="493.63" y2="260.80" stroke="#333" stroke-width="0.9" />
<line x1="493.63" y1="461.70" x2="493.63" y2="458.30" stroke="#333" stroke-width="0.9" />
<line x1="501.18" y1="257.40" x2="501.18" y2="260.80" stroke="#333" stroke-width="0.9" />
<line x1="501.18" y1="461.70" x2="501.18" y2="458.30" stroke="#333" stroke-width="0.9" />
<line x1="507.36" y1="257.40" x2="507.36" y2="260.80" stroke="#333" stroke-width="0.9" />
<line x1="507.36" y1="461.70" x2="507.36" y2="458.30" stroke="#333" stroke-width="0.9" />
<line x1="512.58" y1="257.40" x2="512.58" y2="260.80" stroke="#333" stroke-width="0.9" />
<line x1="512.58" y1="461.70" x2="512.58" y2="458.30" stroke="#333" stroke-width="0.9" />
<line x1="517.10" y1="257.40" x2="517.10" y2="260.80" stroke="#333" stroke-width="0.9" />
<line x1="517.10" y1="461.70" x2="517.10" y2="458.30" stroke="#333" stroke-width="0.9" />
<line x1="521.08" y1="257.40" x2="521.08" y2="260.80" stroke="#333" stroke-width="0.9" />
<line x1="521.08" y1="461.70" x2="521.08" y2="458.30" stroke="#333" stroke-width="0.9" />
<line x1="524.65" y1="257.40" x2="524.65" y2="263.70" stroke="#333" stroke-width="0.9" />
<line x1="524.65" y1="461.70" x2="524.65" y2="455.40" stroke="#333" stroke-width="0.9" />
<line x1="548.12" y1="257.40" x2="548.12" y2="260.80" stroke="#333" stroke-width="0.9" />
<line x1="548.12" y1="461.70" x2="548.12" y2="458.30" stroke="#333" stroke-width="0.9" />
<line x1="561.84" y1="257.40" x2="561.84" y2="260.80" stroke="#333" stroke-width="0.9" />
<line x1="561.84" y1="461.70" x2="561.84" y2="458.30" stroke="#333" stroke-width="0.9" />
<line x1="571.58" y1="257.40" x2="571.58" y2="260.80" stroke="#333" stroke-width="0.9" />
<line x1="571.58" y1="461.70" x2="571.58" y2="458.30" stroke="#333" stroke-width="0.9" />
<line x1="579.13" y1="257.40" x2="579.13" y2="260.80" stroke="#333" stroke-width="0.9" />
<line x1="579.13" y1="461.70" x2="579.13" y2="458.30" stroke="#333" stroke-width="0.9" />
<line x1="585.31" y1="257.40" x2="585.31" y2="260.80" stroke="#333" stroke-width="0.9" />
<line x1="585.31" y1="461.70" x2="585.31" y2="458.30" stroke="#333" stroke-width="0.9" />
<line x1="590.53" y1="257.40" x2="590.53" y2="260.80" stroke="#333" stroke-width="0.9" />
<line x1="590.53" y1="461.70" x2="590.53" y2="458.30" stroke="#333" stroke-width="0.9" />
<line x1="595.05" y1="257.40" x2="595.05" y2="260.80" stroke="#333" stroke-width="0.9" />
<line x1="595.05" y1="461.70" x2="595.05" y2="458.30" stroke="#333" stroke-width="0.9" />
<line x1="599.03" y1="257.40" x2="599.03" y2="260.80" stroke="#333" stroke-width="0.9" />
<line x1="599.03" y1="461.70" x2="599.03" y2="458.30" stroke="#333" stroke-width="0.9" />
<line x1="602.60" y1="257.40" x2="602.60" y2="263.70" stroke="#333" stroke-width="0.9" />
<line x1="602.60" y1="461.70" x2="602.60" y2="455.40" stroke="#333" stroke-width="0.9" />
<line x1="626.07" y1="257.40" x2="626.07" y2="260.80" stroke="#333" stroke-width="0.9" />
<line x1="626.07" y1="461.70" x2="626.07" y2="458.30" stroke="#333" stroke-width="0.9" />
<line x1="639.79" y1="257.40" x2="639.79" y2="260.80" stroke="#333" stroke-width="0.9" />
<line x1="639.79" y1="461.70" x2="639.79" y2="458.30" stroke="#333" stroke-width="0.9" />
<line x1="649.53" y1="257.40" x2="649.53" y2="260.80" stroke="#333" stroke-width="0.9" />
<line x1="649.53" y1="461.70" x2="649.53" y2="458.30" stroke="#333" stroke-width="0.9" />
<line x1="657.08" y1="257.40" x2="657.08" y2="260.80" stroke="#333" stroke-width="0.9" />
<line x1="657.08" y1="461.70" x2="657.08" y2="458.30" stroke="#333" stroke-width="0.9" />
<line x1="663.26" y1="257.40" x2="663.26" y2="260.80" stroke="#333" stroke-width="0.9" />
<line x1="663.26" y1="461.70" x2="663.26" y2="458.30" stroke="#333" stroke-width="0.9" />
<line x1="668.48" y1="257.40" x2="668.48" y2="260.80" stroke="#333" stroke-width="0.9" />
<line x1="668.48" y1="461.70" x2="668.48" y2="458.30" stroke="#333" stroke-width="0.9" />
<line x1="673.00" y1="257.40" x2="673.00" y2="260.80" stroke="#333" stroke-width="0.9" />
<line x1="673.00" y1="461.70" x2="673.00" y2="458.30" stroke="#333" stroke-width="0.9" />
<line x1="391.80" y1="257.40" x2="676.90" y2="257.40" stroke="#222" stroke-width="1.25" stroke-linecap="square"/>
<line x1="676.90" y1="257.40" x2="676.90" y2="461.70" stroke="#222" stroke-width="1.25" stroke-linecap="square"/>
<line x1="391.80" y1="461.70" x2="676.90" y2="461.70" stroke="#2a2a2a" stroke-width="1.15" stroke-linecap="square"/>
<line x1="391.80" y1="256.90" x2="391.80" y2="462.20" stroke="#7a7a7a" stroke-width="1.3" />
<text x="402.10" y="269.80" font-size="9.5" fill="#000" font-weight="bold" font-style="italic" textLength="34.01" lengthAdjust="spacingAndGlyphs" >ATLAS</text>
<path d="M401.80,278.86 L402.52,278.49 L403.52,281.57 L404.15,274.78 L408.41,274.78" fill="none" stroke="#111" stroke-width="0.68"/>
<path d="M402.61,278.59 L403.56,281.48" stroke="#111" stroke-width="1.18"/>
<text x="404.63" y="281.30" font-size="7.78" fill="#000" >s</text>
<text x="408.73" y="281.30" font-size="7.78" fill="#000" textLength="57.00" lengthAdjust="spacingAndGlyphs" >=13 TeV, 36.1 fb</text>
<text x="465.76" y="277.95" font-size="4.98" fill="#000" >-1</text>
<text x="402.15" y="291.40" font-size="7.78" fill="#000" textLength="10.03" lengthAdjust="spacingAndGlyphs" >Z/γ</text>
<polygon points="414.44,286.11 414.78,287.03 415.77,287.08 415.00,287.69 415.26,288.64 414.44,288.10 413.61,288.64 413.88,287.69 413.10,287.08 414.09,287.03" fill="#000"/>
<path d="M415.88,289.95 L422.67,289.95" stroke="#111" stroke-width="0.8"/>
<path d="M421.04,288.50 L423.12,289.95 L421.04,291.40" fill="none" stroke="#111" stroke-width="0.8"/>
<text x="423.26" y="291.40" font-size="7.78" fill="#000" textLength="54.67" lengthAdjust="spacingAndGlyphs" >μμ (normalized)</text>
<line x1="404.70" y1="303.55" x2="419.00" y2="303.55" stroke="#3d9bff" stroke-width="1.55" />
<text x="421.65" y="306.00" font-size="7.2" fill="#000" textLength="45.22" lengthAdjust="spacingAndGlyphs" >Statistical Unc.</text>
<line x1="404.70" y1="315.61" x2="419.00" y2="315.61" stroke="#ff44d2" stroke-width="1.55" />
<text x="421.40" y="318.06" font-size="7.2" fill="#000" textLength="57.96" lengthAdjust="spacingAndGlyphs" >Lepton Efficiencies</text>
<line x1="404.70" y1="327.67" x2="419.00" y2="327.67" stroke="#c800d8" stroke-width="1.55" />
<text x="421.40" y="330.12" font-size="7.2" fill="#000" textLength="74.66" lengthAdjust="spacingAndGlyphs" >Lepton Scale/Resolution</text>
<line x1="404.70" y1="339.73" x2="419.00" y2="339.73" stroke="#ffc000" stroke-width="1.55" />
<text x="421.40" y="342.18" font-size="7.2" fill="#000" textLength="35.47" lengthAdjust="spacingAndGlyphs" >Model Unc.</text>
<line x1="404.70" y1="351.79" x2="419.00" y2="351.79" stroke="#ff0000" stroke-width="1.55" />
<text x="421.65" y="354.24" font-size="7.2" fill="#000" textLength="20.81" lengthAdjust="spacingAndGlyphs" >Others</text>
<line x1="404.70" y1="363.85" x2="419.00" y2="363.85" stroke="#505050" stroke-width="1.2" stroke-dasharray="2.0,1.45"/>
<text x="421.85" y="366.30" font-size="7.2" fill="#000" textLength="14.86" lengthAdjust="spacingAndGlyphs" >Total</text>
<text x="639.60" y="483.30" font-size="12.2" fill="#000" >ϕ</text>
<polygon points="648.80,474.50 649.34,475.95 650.89,476.02 649.68,476.99 650.09,478.48 648.80,477.62 647.51,478.48 647.92,476.99 646.71,476.02 648.26,475.95" fill="#000"/>
<text x="646.40" y="488.00" font-size="8.0" fill="#000" >η</text>
<text x="655.50" y="483.40" font-size="12.5" fill="#000" textLength="22.48" lengthAdjust="spacingAndGlyphs" >(μμ)</text>
<text x="436.85" y="474.90" font-size="10" fill="#000" >10</text>
<text x="447.75" y="470.80" font-size="7.4" fill="#000" >−2</text>
<text x="514.80" y="474.90" font-size="10" fill="#000" >10</text>
<text x="525.70" y="470.80" font-size="7.4" fill="#000" >−1</text>
<text x="600.05" y="474.90" font-size="10" fill="#000" >1</text>
<text transform="translate(359.30,422.90) rotate(-90)" x="0" y="0" font-size="12.85" fill="#000" textLength="136.69" lengthAdjust="spacingAndGlyphs">Uncertainty on 1/σ dσ/dϕ</text>
<polygon points="351.50,283.00 351.97,284.25 353.31,284.31 352.26,285.15 352.62,286.44 351.50,285.70 350.38,286.44 350.74,285.15 349.69,284.31 351.03,284.25" fill="#000"/>
<text transform="translate(365.70,285.55) rotate(-90)" x="0" y="0" font-size="8.5" fill="#000">η</text>
<text transform="translate(359.30,274.30) rotate(-90)" x="0" y="0" font-size="12.85" fill="#000" textLength="18.12" lengthAdjust="spacingAndGlyphs">[%]</text>
</svg>
</body></html>
